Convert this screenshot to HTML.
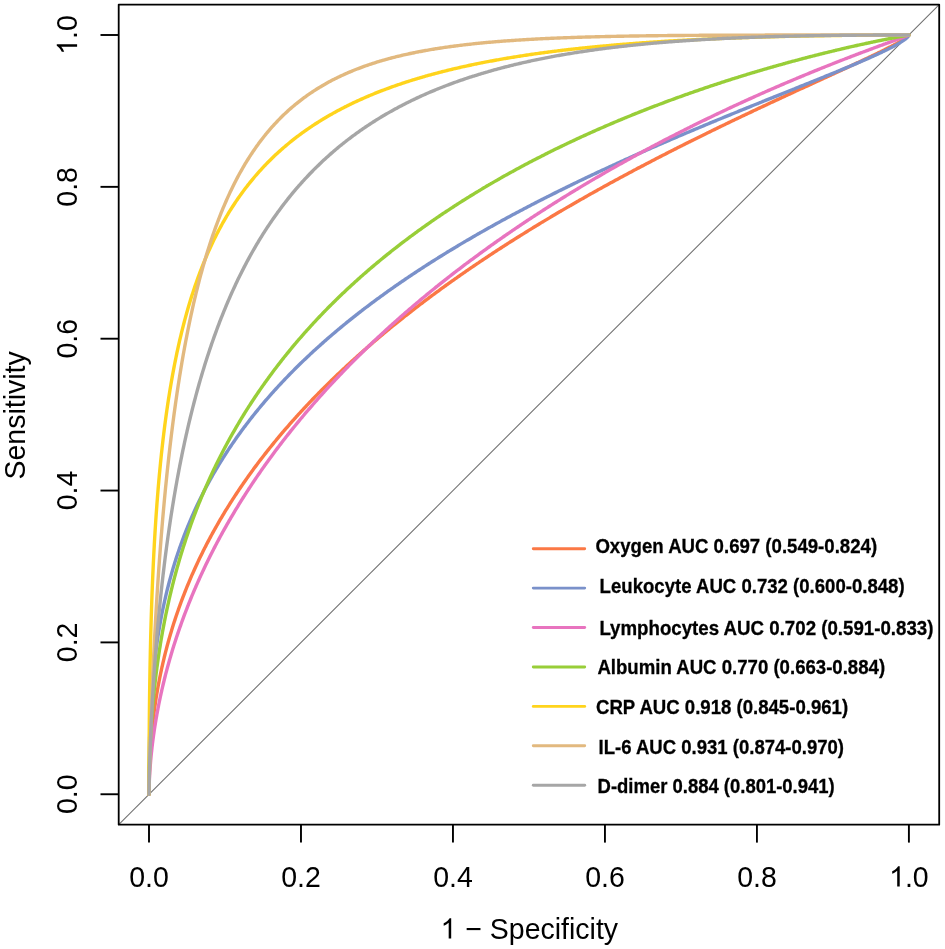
<!DOCTYPE html>
<html><head><meta charset="utf-8"><style>
html,body{margin:0;padding:0;background:#fff;}
svg{display:block;will-change:transform;}
</style></head><body>
<svg width="945" height="949" viewBox="0 0 945 949">
<rect width="945" height="949" fill="#fff"/>
<line x1="118.7" y1="824.7" x2="939.2" y2="4.6" stroke="#6f6f6f" stroke-width="1.05"/>
<g fill="none" stroke-width="3.4" stroke-linejoin="round" stroke-linecap="round">
<path d="M149.0,794.25 L149.0,793.84 L149.0,793.42 L149.0,793.01 L149.0,792.59 L149.0,792.15 L149.0,791.72 L149.01,791.28 L149.01,790.85 L149.01,790.36 L149.01,789.91 L149.01,789.42 L149.02,788.98 L149.02,788.52 L149.02,788.02 L149.03,787.62 L149.03,787.19 L149.04,786.75 L149.04,786.28 L149.05,785.78 L149.05,785.25 L149.06,784.7 L149.07,784.12 L149.07,783.51 L149.08,783.09 L149.09,782.65 L149.09,782.19 L149.1,781.73 L149.11,781.24 L149.12,780.74 L149.13,780.22 L149.14,779.69 L149.15,779.14 L149.16,778.57 L149.17,777.99 L149.18,777.38 L149.2,776.76 L149.21,776.12 L149.23,775.45 L149.25,774.77 L149.27,774.07 L149.29,773.34 L149.31,772.6 L149.33,771.83 L149.36,771.04 L149.37,770.64 L149.38,770.23 L149.4,769.81 L149.41,769.39 L149.43,768.96 L149.44,768.53 L149.46,768.09 L149.47,767.64 L149.49,767.19 L149.51,766.74 L149.53,766.27 L149.54,765.8 L149.56,765.32 L149.58,764.84 L149.6,764.35 L149.63,763.85 L149.65,763.35 L149.67,762.84 L149.69,762.32 L149.72,761.8 L149.74,761.27 L149.77,760.73 L149.79,760.18 L149.82,759.63 L149.85,759.07 L149.88,758.51 L149.91,757.93 L149.94,757.35 L149.97,756.76 L150.0,756.17 L150.03,755.56 L150.07,754.95 L150.1,754.33 L150.14,753.71 L150.18,753.07 L150.22,752.43 L150.26,751.78 L150.3,751.13 L150.34,750.46 L150.38,749.79 L150.43,749.1 L150.48,748.41 L150.52,747.72 L150.57,747.01 L150.62,746.29 L150.67,745.57 L150.73,744.84 L150.78,744.1 L150.84,743.35 L150.9,742.59 L150.96,741.83 L151.02,741.05 L151.08,740.27 L151.15,739.47 L151.21,738.67 L151.28,737.86 L151.35,737.04 L151.43,736.22 L151.5,735.38 L151.54,734.98 L151.58,734.53 L151.66,733.68 L151.74,732.81 L151.82,731.94 L151.91,731.05 L151.99,730.16 L152.08,729.26 L152.18,728.34 L152.27,727.42 L152.37,726.49 L152.47,725.55 L152.57,724.6 L152.68,723.64 L152.79,722.67 L152.9,721.69 L153.01,720.7 L153.13,719.7 L153.25,718.69 L153.37,717.67 L153.5,716.65 L153.63,715.61 L153.76,714.56 L153.89,713.5 L154.03,712.43 L154.18,711.35 L154.32,710.26 L154.47,709.16 L154.63,708.05 L154.78,706.93 L154.95,705.8 L155.11,704.66 L155.28,703.5 L155.34,703.08 L155.45,702.34 L155.63,701.17 L155.81,699.99 L156.0,698.79 L156.19,697.59 L156.39,696.38 L156.59,695.15 L156.79,693.91 L157.0,692.67 L157.22,691.41 L157.44,690.14 L157.66,688.87 L157.88,687.63 L158.12,686.28 L158.37,684.97 L158.61,683.65 L158.86,682.32 L159.12,680.97 L159.38,679.62 L159.65,678.26 L159.93,676.88 L160.21,675.5 L160.42,674.47 L160.49,674.1 L160.79,672.7 L161.09,671.28 L161.39,669.85 L161.69,668.5 L162.02,666.97 L162.35,665.51 L162.68,664.04 L162.95,662.86 L163.37,661.06 L163.73,659.56 L164.09,658.05 L164.22,657.49 L164.46,656.52 L164.84,654.99 L165.22,653.44 L165.49,652.37 L165.61,651.89 L166.02,650.32 L166.43,648.74 L166.76,647.47 L167.27,645.56 L167.7,643.95 L168.03,642.76 L168.15,642.33 L168.6,640.7 L169.06,639.06 L169.3,638.22 L169.53,637.41 L170.01,635.75 L170.5,634.08 L170.99,632.4 L171.5,630.71 L171.84,629.6 L172.02,629.01 L172.54,627.3 L173.08,625.57 L173.63,623.84 L174.18,622.1 L174.37,621.51 L174.75,620.35 L175.33,618.59 L175.64,617.64 L175.92,616.82 L176.51,615.03 L176.91,613.87 L177.12,613.24 L177.74,611.44 L178.18,610.2 L178.38,609.63 L179.02,607.81 L179.45,606.61 L179.67,605.98 L180.34,604.14 L180.72,603.11 L181.02,602.29 L181.71,600.43 L181.98,599.69 L182.41,598.56 L183.12,596.69 L183.25,596.35 L183.85,594.8 L184.52,593.07 L185.34,591.0 L185.79,589.86 L186.1,589.09 L186.88,587.16 L187.06,586.71 L187.67,585.23 L188.33,583.63 L188.47,583.29 L189.28,581.34 L189.6,580.6 L190.11,579.38 L190.86,577.62 L191.81,575.44 L192.13,574.7 L192.68,573.46 L193.4,571.82 L193.56,571.47 L194.46,569.47 L194.67,568.99 L195.37,567.46 L195.94,566.21 L196.29,565.44 L197.21,563.47 L198.19,561.38 L198.48,560.77 L199.15,559.34 L199.74,558.11 L200.14,557.3 L201.01,555.49 L202.15,553.18 L203.18,551.11 L203.55,550.36 L204.22,549.03 L204.82,547.84 L205.28,546.94 L206.09,545.36 L206.35,544.85 L207.36,542.91 L208.55,540.64 L209.67,538.53 L209.89,538.11 L210.8,536.41 L211.16,535.75 L211.96,534.28 L212.43,533.41 L213.13,532.15 L213.7,531.11 L214.31,530.01 L214.97,528.83 L215.51,527.86 L216.24,526.58 L216.73,525.71 L217.51,524.35 L217.97,523.55 L218.77,522.15 L219.22,521.38 L220.04,519.96 L220.48,519.21 L221.31,517.81 L221.77,517.03 L222.58,515.67 L223.07,514.85 L223.85,513.56 L224.39,512.66 L225.12,511.46 L225.72,510.47 L226.39,509.39 L227.08,508.27 L227.65,507.34 L228.45,506.06 L228.92,505.3 L229.83,503.85 L230.19,503.29 L231.24,501.64 L231.46,501.29 L232.66,499.42 L234.0,497.35 L235.27,495.41 L235.56,494.96 L236.53,493.48 L237.03,492.73 L237.8,491.57 L238.53,490.49 L239.07,489.68 L240.04,488.25 L240.34,487.8 L241.57,486.0 L242.88,484.09 L243.11,483.75 L244.15,482.26 L244.68,481.5 L245.41,480.44 L246.26,479.24 L246.68,478.63 L247.86,476.97 L249.22,475.07 L249.48,474.71 L250.49,473.3 L251.12,472.44 L251.76,471.55 L252.77,470.16 L253.03,469.82 L254.29,468.09 L255.56,466.38 L256.14,465.61 L256.83,464.68 L257.85,463.33 L258.1,462.99 L259.37,461.31 L259.57,461.04 L260.64,459.65 L261.32,458.75 L261.91,457.99 L263.09,456.46 L264.44,454.72 L264.87,454.17 L265.71,453.09 L266.67,451.88 L266.98,451.48 L268.25,449.88 L268.49,449.58 L269.52,448.29 L270.33,447.28 L270.79,446.71 L272.06,445.14 L273.32,443.58 L274.06,442.68 L274.59,442.03 L275.86,440.49 L277.13,438.95 L277.87,438.07 L278.4,437.43 L279.67,435.92 L280.94,434.41 L281.75,433.45 L282.2,432.91 L283.47,431.42 L283.72,431.14 L284.74,429.94 L285.7,428.83 L286.01,428.47 L287.28,427.01 L287.71,426.52 L288.55,425.55 L289.73,424.21 L291.08,422.67 L291.77,421.89 L292.35,421.23 L293.62,419.81 L293.83,419.58 L294.89,418.39 L295.9,417.27 L296.16,416.98 L297.43,415.58 L298.0,414.95 L298.7,414.19 L299.97,412.8 L301.23,411.42 L302.24,410.33 L302.5,410.05 L303.77,408.68 L304.39,408.01 L305.04,407.32 L306.31,405.97 L306.56,405.7 L307.58,404.62 L308.74,403.39 L310.11,401.95 L310.95,401.07 L311.38,400.62 L312.65,399.3 L313.16,398.76 L313.92,397.98 L315.19,396.67 L315.4,396.45 L316.46,395.37 L317.66,394.15 L318.99,392.78 L319.93,391.84 L320.26,391.5 L321.53,390.22 L322.22,389.53 L322.8,388.95 L324.07,387.68 L324.52,387.23 L325.34,386.42 L326.61,385.16 L326.85,384.92 L327.87,383.91 L329.14,382.66 L330.41,381.42 L331.54,380.32 L332.95,378.96 L333.92,378.02 L334.22,377.74 L335.49,376.52 L336.31,375.73 L336.75,375.3 L338.02,374.09 L338.72,373.43 L339.29,372.89 L340.56,371.69 L341.14,371.14 L341.83,370.49 L343.1,369.3 L343.58,368.86 L344.37,368.12 L345.64,366.94 L346.03,366.57 L346.9,365.76 L348.17,364.59 L348.51,364.29 L349.44,363.43 L350.71,362.26 L350.99,362.01 L351.98,361.11 L353.25,359.95 L353.5,359.73 L354.52,358.81 L355.78,357.66 L356.01,357.46 L357.05,356.52 L358.32,355.39 L358.55,355.18 L359.59,354.25 L360.86,353.13 L361.1,352.92 L362.13,352.0 L363.4,350.89 L363.66,350.65 L364.66,349.77 L365.93,348.66 L366.24,348.39 L367.2,347.55 L368.47,346.45 L368.83,346.14 L369.74,345.35 L371.01,344.26 L371.44,343.89 L372.28,343.16 L373.54,342.08 L374.06,341.64 L374.81,340.99 L376.08,339.91 L376.7,339.39 L377.35,338.84 L378.62,337.77 L379.35,337.15 L379.89,336.7 L381.16,335.63 L382.01,334.92 L382.43,334.57 L383.69,333.51 L384.69,332.69 L384.96,332.46 L386.23,331.41 L387.38,330.46 L388.77,329.32 L390.04,328.28 L391.31,327.24 L392.57,326.2 L392.8,326.02 L393.84,325.17 L395.11,324.15 L395.53,323.81 L396.38,323.12 L397.65,322.1 L398.27,321.61 L398.92,321.08 L400.19,320.07 L401.02,319.4 L401.45,319.06 L402.72,318.05 L403.79,317.21 L405.26,316.04 L406.53,315.05 L407.8,314.05 L409.07,313.06 L409.35,312.83 L410.33,312.07 L411.6,311.08 L412.15,310.66 L412.87,310.1 L414.14,309.12 L414.96,308.48 L415.41,308.14 L416.68,307.17 L417.79,306.32 L419.21,305.22 L420.48,304.26 L421.75,303.29 L423.02,302.33 L423.46,302.0 L424.29,301.38 L425.56,300.42 L426.32,299.85 L426.83,299.47 L428.1,298.52 L429.18,297.71 L430.63,296.63 L431.9,295.69 L433.17,294.75 L434.44,293.81 L434.94,293.44 L435.71,292.88 L436.98,291.94 L437.83,291.32 L438.24,291.02 L439.51,290.09 L440.73,289.2 L442.05,288.24 L443.32,287.33 L443.64,287.1 L444.59,286.41 L445.86,285.5 L446.55,284.99 L447.12,284.58 L448.39,283.68 L449.48,282.9 L450.93,281.87 L452.2,280.96 L453.47,280.06 L454.74,279.17 L455.35,278.73 L456.0,278.27 L457.27,277.38 L458.3,276.66 L458.54,276.49 L459.81,275.6 L461.08,274.72 L462.35,273.83 L463.62,272.95 L464.22,272.53 L464.88,272.07 L466.15,271.2 L467.18,270.48 L467.42,270.32 L468.69,269.45 L469.96,268.58 L471.23,267.71 L472.5,266.84 L473.14,266.41 L473.77,265.98 L475.03,265.12 L476.12,264.38 L477.57,263.4 L478.84,262.55 L479.11,262.36 L480.11,261.69 L481.38,260.84 L482.11,260.35 L482.65,259.99 L483.91,259.15 L485.11,258.35 L486.45,257.46 L487.72,256.62 L488.11,256.35 L488.99,255.78 L490.26,254.94 L491.12,254.37 L491.53,254.1 L492.79,253.27 L494.06,252.44 L495.33,251.61 L496.6,250.78 L497.15,250.42 L497.87,249.95 L499.14,249.13 L500.17,248.46 L501.67,247.49 L502.94,246.67 L503.19,246.51 L504.21,245.85 L505.48,245.04 L506.22,244.57 L506.75,244.22 L508.02,243.41 L509.24,242.63 L510.56,241.8 L511.82,240.99 L512.27,240.71 L513.09,240.19 L514.36,239.38 L515.3,238.79 L515.63,238.58 L516.9,237.78 L518.17,236.99 L519.44,236.19 L520.7,235.4 L521.37,234.99 L521.97,234.61 L523.24,233.82 L524.4,233.1 L525.78,232.24 L527.05,231.45 L527.43,231.22 L528.32,230.67 L529.58,229.89 L530.47,229.35 L530.85,229.11 L532.12,228.33 L533.39,227.55 L534.66,226.78 L535.93,226.0 L536.53,225.63 L537.2,225.23 L538.46,224.46 L539.57,223.79 L541.0,222.92 L542.27,222.16 L542.6,221.96 L543.54,221.39 L544.81,220.63 L545.63,220.13 L546.08,219.87 L547.34,219.11 L548.61,218.35 L549.88,217.59 L551.15,216.83 L551.68,216.52 L552.42,216.08 L553.69,215.33 L554.71,214.72 L556.23,213.83 L557.49,213.08 L558.76,212.33 L560.03,211.58 L560.75,211.16 L561.3,210.84 L562.57,210.1 L563.77,209.4 L565.11,208.62 L566.37,207.88 L566.78,207.64 L567.64,207.14 L568.91,206.41 L569.79,205.9 L570.18,205.67 L571.45,204.94 L572.72,204.21 L573.99,203.48 L575.25,202.75 L575.79,202.44 L576.52,202.02 L577.79,201.29 L578.79,200.73 L579.06,200.57 L580.33,199.84 L581.6,199.12 L582.87,198.4 L584.13,197.68 L584.76,197.33 L585.4,196.96 L586.67,196.25 L587.74,195.64 L589.21,194.82 L590.48,194.1 L591.75,193.39 L593.02,192.68 L593.68,192.31 L594.28,191.97 L595.55,191.26 L596.64,190.65 L598.09,189.85 L599.36,189.14 L600.63,188.44 L601.9,187.74 L602.55,187.38 L603.16,187.04 L604.43,186.34 L605.49,185.76 L606.97,184.94 L608.24,184.24 L609.51,183.55 L610.78,182.86 L611.35,182.54 L612.04,182.16 L613.31,181.47 L614.26,180.95 L614.58,180.78 L615.85,180.09 L617.12,179.4 L618.39,178.72 L619.66,178.03 L620.07,177.8 L620.92,177.34 L622.19,176.66 L622.96,176.25 L623.46,175.98 L624.73,175.3 L625.85,174.7 L627.27,173.94 L628.54,173.26 L629.8,172.58 L631.07,171.9 L631.58,171.63 L632.34,171.23 L633.61,170.56 L634.44,170.12 L634.88,169.88 L636.15,169.21 L637.28,168.61 L638.69,167.87 L639.95,167.2 L641.22,166.53 L642.49,165.87 L642.94,165.63 L643.76,165.2 L645.03,164.54 L645.75,164.16 L646.3,163.87 L647.57,163.21 L648.55,162.7 L648.83,162.55 L650.1,161.89 L651.34,161.24 L652.64,160.57 L653.91,159.91 L655.18,159.25 L656.45,158.6 L656.88,158.37 L657.71,157.94 L658.98,157.29 L659.63,156.95 L660.25,156.63 L661.52,155.98 L662.37,155.54 L662.79,155.33 L664.06,154.68 L665.1,154.14 L666.59,153.38 L667.82,152.76 L669.13,152.09 L670.4,151.44 L671.67,150.8 L672.94,150.15 L673.21,150.01 L674.21,149.51 L675.47,148.87 L675.89,148.66 L676.74,148.23 L678.01,147.59 L678.55,147.31 L679.28,146.95 L680.55,146.31 L681.2,145.98 L681.82,145.67 L683.09,145.03 L683.84,144.65 L684.36,144.4 L685.62,143.76 L686.46,143.34 L686.89,143.13 L688.16,142.49 L689.07,142.04 L689.43,141.86 L690.7,141.23 L691.66,140.75 L691.97,140.6 L693.24,139.97 L694.24,139.47 L695.77,138.71 L696.8,138.2 L698.31,137.45 L699.35,136.94 L700.85,136.2 L701.89,135.69 L703.38,134.95 L704.4,134.45 L705.92,133.7 L706.91,133.22 L707.19,133.08 L708.46,132.46 L709.39,132.0 L709.73,131.84 L711.0,131.22 L711.87,130.8 L712.26,130.6 L713.53,129.98 L714.32,129.6 L714.8,129.37 L716.07,128.75 L716.76,128.41 L717.34,128.13 L718.61,127.52 L719.18,127.24 L719.88,126.9 L721.15,126.29 L721.59,126.07 L722.41,125.68 L723.68,125.06 L723.98,124.92 L724.95,124.45 L726.22,123.84 L727.49,123.23 L728.71,122.64 L730.03,122.01 L731.05,121.52 L732.56,120.79 L733.38,120.4 L733.83,120.19 L735.1,119.58 L735.68,119.3 L736.37,118.97 L737.64,118.37 L737.97,118.21 L738.91,117.76 L740.17,117.16 L741.44,116.56 L742.5,116.05 L743.98,115.35 L744.74,114.99 L745.25,114.75 L746.52,114.15 L746.95,113.94 L747.79,113.55 L749.05,112.95 L750.32,112.35 L751.34,111.87 L752.86,111.15 L753.51,110.84 L754.13,110.55 L755.4,109.95 L756.67,109.36 L757.79,108.83 L759.2,108.16 L759.9,107.84 L760.47,107.57 L761.74,106.97 L763.01,106.38 L764.07,105.88 L765.55,105.19 L766.13,104.92 L766.82,104.6 L768.08,104.01 L769.35,103.41 L770.19,103.02 L770.62,102.82 L771.89,102.23 L772.2,102.09 L773.16,101.64 L774.18,101.16 L775.7,100.46 L776.15,100.25 L776.96,99.87 L778.1,99.34 L779.5,98.69 L780.03,98.45 L780.77,98.11 L781.94,97.56 L783.31,96.93 L783.84,96.69 L784.58,96.34 L785.71,95.82 L787.11,95.17 L787.57,94.96 L788.38,94.58 L789.41,94.11 L790.92,93.41 L791.23,93.27 L792.19,92.83 L793.03,92.44 L793.46,92.24 L794.72,91.66 L795.99,91.07 L796.58,90.8 L797.26,90.49 L798.33,90.0 L799.8,89.32 L801.07,88.74 L801.76,88.42 L802.34,88.16 L803.46,87.64 L804.87,86.99 L806.14,86.41 L806.78,86.11 L807.41,85.83 L808.42,85.36 L809.95,84.66 L811.22,84.08 L811.64,83.89 L812.49,83.5 L813.22,83.16 L813.75,82.92 L814.79,82.44 L816.29,81.75 L817.56,81.17 L817.86,81.03 L818.83,80.59 L819.37,80.34 L820.1,80.01 L820.87,79.66 L821.37,79.43 L822.34,78.98 L822.63,78.85 L823.8,78.31 L825.17,77.68 L826.44,77.1 L827.71,76.52 L828.07,76.36 L828.98,75.94 L829.45,75.72 L830.25,75.36 L830.82,75.09 L831.51,74.77 L832.18,74.47 L832.78,74.19 L833.51,73.86 L834.05,73.61 L834.83,73.25 L835.32,73.03 L836.13,72.65 L836.59,72.44 L837.42,72.06 L837.86,71.86 L838.68,71.48 L839.13,71.28 L839.93,70.9 L840.39,70.69 L841.17,70.34 L841.66,70.11 L842.39,69.78 L842.93,69.52 L843.59,69.22 L844.2,68.94 L844.77,68.67 L845.47,68.35 L845.94,68.13 L846.74,67.77 L847.1,67.6 L848.01,67.18 L849.28,66.59 L850.46,66.04 L851.55,65.54 L852.62,65.04 L853.08,64.83 L853.68,64.55 L854.35,64.24 L854.72,64.06 L855.62,63.65 L856.76,63.11 L857.76,62.65 L858.16,62.46 L858.75,62.19 L859.42,61.87 L859.71,61.73 L860.67,61.29 L861.61,60.84 L861.96,60.68 L862.53,60.41 L863.23,60.08 L864.34,59.56 L865.22,59.14 L865.77,58.88 L866.09,58.73 L866.95,58.32 L867.79,57.92 L868.3,57.68 L868.62,57.53 L869.43,57.14 L870.23,56.76 L870.84,56.47 L871.8,56.01 L872.11,55.86 L872.56,55.64 L873.31,55.28 L874.05,54.93 L874.65,54.64 L875.49,54.23 L875.92,54.03 L876.19,53.89 L876.88,53.56 L877.18,53.41 L877.56,53.23 L878.23,52.9 L878.88,52.58 L879.52,52.27 L880.16,51.96 L880.78,51.65 L881.39,51.35 L881.98,51.05 L882.26,50.92 L882.57,50.76 L883.15,50.47 L883.53,50.28 L884.27,49.91 L884.8,49.65 L885.36,49.37 L885.88,49.1 L886.4,48.84 L886.91,48.58 L887.33,48.36 L887.89,48.08 L888.37,47.83 L888.84,47.59 L889.3,47.35 L889.75,47.12 L890.2,46.89 L890.63,46.67 L891.06,46.44 L891.47,46.22 L891.88,46.01 L892.29,45.8 L892.68,45.59 L893.06,45.38 L893.44,45.18 L893.81,44.99 L894.17,44.79 L894.53,44.6 L894.88,44.41 L895.22,44.23 L895.55,44.05 L895.88,43.87 L896.19,43.69 L896.51,43.52 L896.81,43.35 L897.11,43.18 L897.41,43.02 L897.69,42.86 L897.97,42.7 L898.25,42.55 L898.52,42.39 L898.78,42.24 L899.29,41.95 L899.78,41.67 L900.24,41.4 L900.68,41.14 L901.11,40.89 L901.51,40.64 L901.9,40.41 L902.27,40.19 L902.56,40.01 L902.95,39.76 L903.27,39.56 L903.58,39.36 L903.87,39.18 L904.14,39.0 L904.4,38.83 L904.65,38.66 L904.89,38.5 L905.22,38.27 L905.53,38.06 L905.82,37.86 L906.08,37.67 L906.32,37.49 L906.62,37.27 L906.88,37.07 L907.12,36.88 L907.38,36.67 L907.6,36.48 L907.83,36.28 L908.05,36.07 L908.27,35.86 L908.47,35.65 L908.66,35.42 L908.9,35.0" stroke="#FB7845" />
<path d="M149.0,794.25 L149.0,793.84 L149.0,793.43 L149.0,793.01 L149.0,792.6 L149.0,792.16 L149.0,791.72 L149.0,791.27 L149.0,790.81 L149.0,790.37 L149.0,789.96 L149.0,789.52 L149.0,789.04 L149.0,788.62 L149.0,788.18 L149.0,787.7 L149.0,787.19 L149.0,786.79 L149.0,786.36 L149.0,785.92 L149.0,785.45 L149.01,784.96 L149.01,784.45 L149.01,783.91 L149.01,783.35 L149.01,782.76 L149.01,782.35 L149.01,781.93 L149.01,781.5 L149.01,781.05 L149.01,780.59 L149.02,780.12 L149.02,779.63 L149.02,779.13 L149.02,778.62 L149.02,778.09 L149.02,777.54 L149.03,776.98 L149.03,776.41 L149.03,775.82 L149.03,775.21 L149.04,774.58 L149.04,773.94 L149.04,773.28 L149.05,772.61 L149.05,771.91 L149.06,771.2 L149.06,770.46 L149.07,769.71 L149.07,768.94 L149.08,768.15 L149.08,767.34 L149.09,766.93 L149.09,766.51 L149.09,766.08 L149.1,765.66 L149.1,765.22 L149.1,764.78 L149.11,764.34 L149.11,763.89 L149.12,763.43 L149.12,762.97 L149.13,762.5 L149.13,762.03 L149.14,761.55 L149.14,761.07 L149.15,760.58 L149.15,760.08 L149.16,759.58 L149.17,759.07 L149.17,758.56 L149.18,758.04 L149.18,757.51 L149.19,756.98 L149.2,756.45 L149.21,755.9 L149.21,755.35 L149.22,754.8 L149.23,754.23 L149.24,753.66 L149.25,753.09 L149.26,752.51 L149.27,751.92 L149.28,751.32 L149.29,750.72 L149.3,750.11 L149.31,749.5 L149.32,748.88 L149.33,748.25 L149.34,747.62 L149.36,746.97 L149.37,746.33 L149.38,745.67 L149.4,745.01 L149.41,744.34 L149.43,743.66 L149.44,742.98 L149.46,742.29 L149.47,741.59 L149.49,740.89 L149.51,740.17 L149.53,739.46 L149.54,738.73 L149.56,737.99 L149.58,737.25 L149.6,736.5 L149.63,735.75 L149.65,734.98 L149.67,734.21 L149.69,733.43 L149.72,732.65 L149.74,731.85 L149.77,731.05 L149.79,730.24 L149.82,729.42 L149.85,728.6 L149.88,727.77 L149.91,726.93 L149.94,726.08 L149.97,725.22 L150.0,724.36 L150.03,723.48 L150.07,722.6 L150.1,721.71 L150.14,720.82 L150.18,719.91 L150.22,719.0 L150.26,718.08 L150.3,717.15 L150.34,716.21 L150.38,715.27 L150.43,714.31 L150.48,713.35 L150.52,712.38 L150.57,711.4 L150.62,710.41 L150.67,709.42 L150.73,708.41 L150.78,707.4 L150.84,706.38 L150.9,705.35 L150.96,704.31 L151.02,703.26 L151.08,702.21 L151.15,701.14 L151.21,700.07 L151.28,698.99 L151.35,697.9 L151.43,696.8 L151.5,695.69 L151.54,695.16 L151.58,694.58 L151.66,693.45 L151.74,692.32 L151.82,691.18 L151.91,690.03 L151.99,688.87 L152.08,687.7 L152.18,686.52 L152.27,685.33 L152.37,684.14 L152.47,682.94 L152.57,681.72 L152.68,680.5 L152.79,679.27 L152.9,678.03 L153.01,676.79 L153.13,675.53 L153.25,674.27 L153.37,672.99 L153.5,671.71 L153.63,670.42 L153.76,669.12 L153.89,667.81 L154.03,666.49 L154.07,666.1 L154.18,665.16 L154.32,663.83 L154.47,662.48 L154.63,661.13 L154.78,659.77 L154.95,658.4 L155.11,657.02 L155.28,655.63 L155.34,655.13 L155.45,654.23 L155.63,652.83 L155.81,651.41 L156.0,649.99 L156.19,648.56 L156.39,647.12 L156.59,645.67 L156.79,644.21 L157.0,642.75 L157.22,641.27 L157.44,639.79 L157.66,638.3 L157.88,636.86 L158.12,635.29 L158.37,633.77 L158.61,632.24 L158.86,630.71 L159.12,629.17 L159.38,627.62 L159.65,626.06 L159.93,624.49 L160.21,622.91 L160.42,621.74 L160.49,621.33 L160.79,619.74 L161.09,618.13 L161.39,616.53 L161.69,615.01 L162.02,613.28 L162.35,611.65 L162.68,610.01 L162.95,608.7 L163.02,608.36 L163.37,606.7 L163.73,605.04 L164.09,603.37 L164.22,602.75 L164.46,601.69 L164.84,600.0 L165.22,598.3 L165.49,597.13 L165.61,596.6 L166.02,594.89 L166.43,593.17 L166.76,591.78 L166.84,591.44 L167.27,589.71 L167.7,587.97 L168.03,586.68 L168.15,586.22 L168.6,584.46 L169.06,582.7 L169.3,581.8 L169.53,580.93 L170.01,579.16 L170.5,577.37 L170.99,575.58 L171.5,573.78 L171.84,572.61 L172.02,571.98 L172.54,570.16 L173.08,568.35 L173.63,566.52 L174.18,564.69 L174.37,564.07 L174.75,562.85 L175.33,561.01 L175.64,560.01 L175.92,559.15 L176.51,557.3 L176.91,556.08 L177.12,555.43 L177.74,553.56 L178.18,552.27 L178.38,551.68 L179.02,549.8 L179.45,548.57 L179.67,547.91 L180.34,546.02 L180.72,544.96 L181.02,544.12 L181.71,542.21 L181.98,541.45 L182.41,540.3 L183.12,538.38 L183.25,538.03 L183.85,536.46 L184.52,534.7 L185.34,532.59 L185.79,531.44 L186.1,530.65 L186.88,528.71 L187.06,528.26 L187.67,526.76 L188.33,525.14 L188.47,524.8 L189.28,522.84 L189.6,522.1 L190.11,520.88 L190.86,519.11 L191.81,516.93 L192.13,516.19 L192.68,514.95 L193.4,513.32 L193.56,512.97 L194.46,510.98 L194.67,510.51 L195.37,508.98 L195.94,507.75 L196.29,506.99 L197.21,505.04 L198.19,502.98 L198.48,502.37 L199.15,500.97 L199.74,499.75 L200.14,498.95 L201.01,497.18 L202.15,494.91 L203.18,492.89 L203.55,492.15 L204.22,490.86 L204.82,489.7 L205.28,488.82 L206.09,487.29 L206.35,486.79 L207.36,484.9 L208.55,482.7 L209.67,480.66 L209.89,480.25 L210.8,478.61 L211.16,477.97 L211.96,476.55 L212.43,475.72 L213.13,474.5 L213.7,473.5 L214.31,472.44 L214.97,471.31 L215.51,470.38 L216.24,469.15 L216.73,468.31 L217.51,467.01 L217.97,466.25 L218.77,464.91 L219.22,464.18 L220.04,462.82 L220.48,462.11 L221.31,460.77 L221.77,460.03 L222.58,458.74 L223.07,457.96 L223.85,456.73 L224.39,455.88 L225.12,454.74 L225.72,453.8 L226.39,452.78 L227.08,451.72 L227.65,450.84 L228.45,449.63 L228.92,448.92 L229.83,447.55 L230.19,447.02 L231.24,445.46 L231.46,445.14 L232.66,443.37 L234.0,441.43 L235.27,439.61 L235.56,439.19 L236.53,437.81 L237.03,437.1 L237.8,436.02 L238.53,435.01 L239.07,434.25 L240.04,432.91 L240.34,432.5 L241.57,430.82 L242.88,429.04 L243.11,428.72 L244.15,427.33 L244.68,426.63 L245.41,425.64 L246.26,424.53 L246.68,423.97 L247.86,422.43 L249.22,420.67 L249.48,420.33 L250.49,419.04 L251.12,418.24 L251.76,417.42 L252.77,416.14 L253.03,415.81 L254.29,414.22 L255.56,412.65 L256.14,411.94 L256.83,411.08 L257.85,409.84 L258.1,409.53 L259.37,407.99 L259.57,407.74 L260.64,406.46 L261.32,405.65 L261.91,404.95 L263.09,403.55 L264.44,401.95 L264.87,401.45 L265.71,400.47 L266.67,399.36 L266.98,399.0 L268.25,397.54 L268.49,397.26 L269.52,396.09 L270.33,395.17 L270.79,394.65 L272.06,393.22 L273.32,391.8 L274.06,390.98 L274.59,390.39 L275.86,388.99 L277.13,387.6 L277.87,386.8 L278.4,386.22 L279.67,384.85 L280.94,383.49 L281.75,382.62 L282.2,382.14 L283.47,380.79 L283.72,380.54 L284.74,379.46 L285.7,378.45 L286.01,378.13 L287.28,376.81 L287.71,376.37 L288.55,375.5 L289.73,374.29 L291.08,372.91 L291.77,372.21 L292.35,371.62 L293.62,370.34 L293.83,370.13 L294.89,369.07 L295.9,368.06 L296.16,367.81 L297.43,366.55 L298.0,365.99 L298.7,365.3 L299.97,364.06 L301.23,362.83 L302.24,361.85 L302.5,361.6 L303.77,360.38 L304.39,359.78 L305.04,359.16 L306.31,357.96 L306.56,357.72 L307.58,356.76 L308.74,355.66 L310.11,354.38 L310.95,353.6 L311.38,353.2 L312.65,352.02 L313.16,351.55 L313.92,350.85 L315.19,349.69 L316.46,348.54 L317.66,347.45 L318.99,346.24 L319.93,345.4 L320.26,345.11 L321.53,343.97 L322.22,343.36 L322.8,342.85 L324.07,341.73 L324.52,341.32 L325.34,340.61 L326.61,339.5 L326.85,339.29 L327.87,338.4 L329.14,337.3 L330.41,336.2 L331.54,335.23 L332.95,334.03 L333.92,333.21 L334.22,332.95 L335.49,331.88 L336.31,331.19 L336.75,330.81 L338.02,329.75 L338.72,329.17 L339.29,328.69 L340.56,327.64 L341.14,327.16 L341.83,326.59 L343.1,325.54 L343.58,325.15 L344.37,324.5 L345.64,323.47 L346.03,323.15 L346.9,322.44 L348.17,321.41 L348.51,321.15 L349.44,320.39 L350.71,319.38 L350.99,319.15 L351.98,318.36 L353.25,317.36 L353.5,317.16 L354.52,316.35 L355.78,315.35 L356.01,315.17 L357.05,314.36 L358.32,313.37 L358.55,313.19 L359.59,312.38 L360.86,311.4 L361.1,311.21 L362.13,310.42 L363.4,309.44 L363.66,309.24 L364.66,308.47 L365.93,307.51 L366.24,307.27 L367.2,306.54 L368.47,305.58 L368.83,305.31 L369.74,304.63 L371.01,303.68 L371.44,303.35 L372.28,302.73 L373.54,301.78 L374.06,301.4 L374.81,300.84 L376.08,299.91 L376.7,299.45 L377.35,298.97 L378.62,298.04 L379.35,297.51 L379.89,297.12 L381.16,296.19 L382.01,295.57 L382.43,295.27 L383.69,294.36 L384.69,293.64 L384.96,293.44 L386.23,292.54 L387.38,291.72 L388.77,290.73 L390.04,289.83 L391.31,288.93 L392.57,288.04 L393.84,287.15 L395.11,286.26 L395.53,285.97 L396.38,285.38 L397.65,284.5 L398.27,284.07 L398.92,283.62 L400.19,282.75 L401.02,282.17 L401.45,281.87 L402.72,281.01 L403.79,280.28 L405.26,279.28 L406.53,278.42 L407.8,277.56 L409.07,276.71 L409.35,276.52 L410.33,275.86 L411.6,275.01 L412.15,274.64 L412.87,274.16 L414.14,273.32 L414.96,272.78 L415.41,272.48 L416.68,271.64 L417.79,270.91 L419.21,269.98 L420.48,269.15 L421.75,268.32 L423.02,267.5 L423.46,267.21 L424.29,266.68 L425.56,265.86 L426.32,265.37 L426.83,265.04 L428.1,264.23 L429.18,263.54 L430.63,262.61 L431.9,261.8 L433.17,261.0 L434.44,260.2 L434.94,259.89 L435.71,259.4 L436.98,258.6 L437.83,258.07 L438.24,257.81 L439.51,257.02 L440.73,256.26 L442.05,255.44 L443.32,254.66 L443.64,254.46 L444.59,253.88 L445.86,253.1 L446.55,252.67 L447.12,252.32 L448.39,251.54 L449.48,250.88 L450.93,250.0 L452.2,249.23 L453.47,248.46 L454.74,247.7 L455.35,247.33 L456.0,246.94 L457.27,246.18 L458.3,245.56 L459.81,244.66 L461.08,243.91 L462.35,243.16 L463.62,242.41 L464.22,242.05 L464.88,241.66 L466.15,240.91 L467.18,240.31 L468.69,239.43 L469.96,238.69 L471.23,237.95 L472.5,237.21 L473.14,236.84 L473.77,236.48 L475.03,235.75 L476.12,235.12 L477.57,234.29 L478.84,233.56 L479.11,233.4 L480.11,232.84 L481.38,232.11 L482.11,231.7 L482.65,231.39 L483.91,230.67 L485.11,230.0 L486.45,229.24 L487.72,228.53 L488.11,228.31 L488.99,227.82 L490.26,227.11 L491.12,226.62 L491.53,226.4 L492.79,225.69 L494.06,224.99 L495.33,224.28 L496.6,223.58 L497.15,223.28 L497.87,222.88 L499.14,222.19 L500.17,221.62 L501.67,220.79 L502.94,220.1 L504.21,219.41 L505.48,218.72 L506.22,218.32 L506.75,218.03 L508.02,217.35 L509.24,216.69 L510.56,215.98 L511.82,215.3 L512.27,215.06 L513.09,214.62 L514.36,213.94 L515.3,213.44 L515.63,213.26 L516.9,212.59 L518.17,211.91 L519.44,211.24 L520.7,210.57 L521.37,210.22 L521.97,209.9 L523.24,209.23 L524.4,208.62 L525.78,207.9 L527.05,207.24 L527.43,207.04 L528.32,206.58 L529.58,205.91 L530.47,205.46 L530.85,205.26 L532.12,204.6 L533.39,203.94 L534.66,203.29 L535.93,202.63 L536.53,202.32 L537.2,201.98 L538.46,201.33 L539.57,200.77 L541.0,200.03 L542.27,199.39 L542.6,199.22 L543.54,198.74 L544.81,198.1 L545.63,197.68 L546.08,197.46 L547.34,196.81 L548.61,196.17 L549.88,195.54 L551.15,194.9 L551.68,194.63 L552.42,194.26 L553.69,193.63 L554.71,193.12 L556.23,192.36 L557.49,191.73 L558.76,191.1 L560.03,190.47 L560.75,190.12 L561.3,189.85 L562.57,189.22 L563.77,188.63 L565.11,187.97 L566.37,187.35 L566.78,187.15 L567.64,186.73 L568.91,186.11 L569.79,185.68 L570.18,185.49 L571.45,184.87 L572.72,184.26 L573.99,183.64 L575.25,183.03 L575.79,182.77 L576.52,182.41 L577.79,181.8 L578.79,181.32 L580.33,180.58 L581.6,179.97 L582.87,179.37 L584.13,178.76 L584.76,178.46 L585.4,178.16 L586.67,177.55 L587.74,177.04 L589.21,176.35 L590.48,175.75 L591.75,175.15 L593.02,174.55 L593.68,174.23 L594.28,173.95 L595.55,173.35 L596.64,172.84 L598.09,172.16 L599.36,171.57 L600.63,170.98 L601.9,170.39 L602.55,170.08 L603.16,169.8 L604.43,169.21 L605.49,168.72 L606.97,168.03 L608.24,167.45 L609.51,166.86 L610.78,166.28 L611.35,166.01 L612.04,165.69 L613.31,165.11 L614.26,164.67 L614.58,164.53 L615.85,163.95 L617.12,163.37 L618.39,162.79 L619.66,162.21 L620.07,162.02 L620.92,161.63 L622.19,161.06 L622.96,160.71 L623.46,160.48 L624.73,159.91 L625.85,159.4 L627.27,158.76 L628.54,158.19 L629.8,157.62 L631.07,157.05 L631.58,156.82 L632.34,156.48 L633.61,155.91 L634.44,155.54 L634.88,155.35 L636.15,154.78 L637.28,154.28 L638.69,153.65 L639.95,153.09 L641.22,152.52 L642.49,151.96 L642.94,151.76 L643.76,151.4 L645.03,150.84 L645.75,150.52 L646.3,150.28 L647.57,149.72 L648.55,149.29 L648.83,149.16 L650.1,148.6 L651.34,148.06 L652.64,147.49 L653.91,146.94 L655.18,146.38 L656.45,145.83 L656.88,145.64 L657.71,145.28 L658.98,144.72 L659.63,144.44 L660.25,144.17 L661.52,143.62 L662.37,143.25 L662.79,143.07 L664.06,142.52 L665.1,142.07 L666.59,141.43 L667.82,140.9 L669.13,140.33 L670.4,139.79 L671.67,139.24 L672.94,138.7 L674.21,138.16 L675.47,137.61 L675.89,137.43 L676.74,137.07 L678.01,136.53 L678.55,136.3 L679.28,135.99 L680.55,135.45 L681.2,135.17 L681.82,134.91 L683.09,134.37 L683.84,134.05 L684.36,133.83 L685.62,133.29 L686.46,132.94 L686.89,132.76 L688.16,132.22 L689.07,131.84 L689.43,131.68 L690.7,131.15 L691.66,130.74 L691.97,130.61 L693.24,130.08 L694.24,129.66 L695.77,129.01 L696.8,128.58 L698.31,127.95 L699.35,127.51 L700.85,126.89 L701.89,126.45 L703.38,125.83 L704.4,125.4 L705.92,124.77 L706.91,124.36 L707.19,124.24 L708.46,123.72 L709.39,123.33 L709.73,123.19 L711.0,122.66 L711.87,122.3 L712.26,122.14 L713.53,121.61 L714.32,121.28 L714.8,121.09 L716.07,120.56 L716.76,120.28 L717.34,120.04 L718.61,119.51 L719.18,119.28 L719.88,118.99 L721.15,118.47 L721.59,118.29 L722.41,117.95 L723.68,117.43 L723.98,117.3 L724.95,116.9 L726.22,116.38 L727.49,115.86 L728.71,115.36 L730.03,114.82 L731.05,114.4 L732.56,113.79 L733.38,113.45 L733.83,113.27 L735.1,112.75 L735.68,112.51 L736.37,112.23 L737.64,111.72 L737.97,111.58 L738.91,111.2 L740.17,110.68 L741.44,110.17 L742.5,109.74 L743.98,109.14 L744.74,108.83 L745.25,108.62 L746.52,108.11 L746.95,107.93 L747.79,107.59 L749.05,107.08 L750.32,106.57 L751.34,106.15 L752.86,105.54 L753.51,105.28 L754.13,105.03 L755.4,104.51 L756.67,104.0 L757.79,103.55 L759.2,102.98 L759.9,102.7 L760.47,102.47 L761.74,101.96 L763.01,101.44 L764.07,101.02 L765.55,100.42 L766.13,100.19 L766.82,99.91 L768.08,99.4 L769.35,98.89 L770.19,98.55 L770.62,98.38 L771.89,97.87 L772.2,97.75 L773.16,97.36 L774.18,96.95 L775.7,96.34 L776.15,96.16 L776.96,95.83 L778.1,95.38 L779.5,94.82 L780.03,94.6 L780.77,94.31 L781.94,93.84 L783.31,93.29 L783.84,93.08 L784.58,92.78 L785.71,92.33 L787.11,91.76 L787.57,91.58 L788.38,91.26 L789.41,90.84 L790.92,90.24 L791.23,90.11 L792.19,89.73 L793.03,89.39 L793.46,89.22 L794.72,88.71 L795.99,88.2 L796.58,87.97 L797.26,87.69 L798.33,87.27 L799.8,86.68 L801.07,86.17 L801.76,85.89 L802.34,85.66 L803.46,85.21 L804.87,84.64 L806.14,84.13 L806.78,83.87 L807.41,83.62 L808.42,83.21 L809.95,82.6 L811.22,82.09 L811.64,81.92 L812.49,81.58 L813.22,81.28 L813.75,81.06 L814.79,80.65 L816.29,80.04 L817.56,79.53 L817.86,79.41 L818.83,79.01 L819.37,78.79 L820.1,78.5 L820.87,78.19 L821.37,77.99 L822.34,77.59 L822.63,77.47 L823.8,77.0 L825.17,76.44 L826.44,75.93 L827.71,75.41 L828.07,75.27 L828.98,74.9 L829.45,74.7 L830.25,74.38 L830.82,74.14 L831.51,73.86 L832.18,73.59 L832.78,73.34 L833.51,73.04 L834.05,72.82 L834.83,72.5 L835.32,72.3 L836.13,71.97 L836.59,71.78 L837.42,71.44 L837.86,71.26 L838.68,70.92 L839.13,70.74 L839.93,70.4 L840.39,70.21 L841.17,69.89 L841.66,69.69 L842.39,69.39 L842.93,69.16 L843.59,68.89 L844.2,68.64 L844.77,68.4 L845.47,68.11 L845.94,67.91 L846.74,67.58 L847.1,67.43 L848.01,67.05 L849.28,66.52 L850.46,66.02 L851.55,65.56 L852.62,65.11 L853.08,64.92 L853.68,64.66 L854.35,64.38 L854.72,64.22 L855.62,63.84 L856.76,63.35 L857.76,62.93 L858.16,62.76 L858.75,62.51 L859.42,62.22 L859.71,62.09 L860.67,61.68 L861.61,61.28 L861.96,61.12 L862.53,60.88 L863.23,60.57 L864.34,60.09 L865.22,59.71 L865.77,59.47 L866.09,59.32 L866.95,58.95 L867.79,58.58 L868.3,58.35 L868.62,58.21 L869.43,57.85 L870.23,57.49 L870.84,57.22 L871.8,56.8 L872.11,56.66 L872.56,56.45 L873.31,56.11 L874.05,55.78 L874.65,55.51 L875.49,55.13 L875.92,54.93 L876.88,54.49 L877.18,54.35 L877.56,54.18 L878.23,53.87 L878.88,53.57 L879.52,53.27 L880.16,52.97 L880.78,52.68 L881.39,52.39 L881.98,52.11 L882.26,51.98 L882.57,51.83 L883.15,51.55 L883.53,51.37 L884.27,51.01 L884.8,50.76 L885.36,50.49 L885.88,50.23 L886.4,49.98 L886.91,49.73 L887.33,49.51 L887.89,49.24 L888.37,49.0 L888.84,48.76 L889.3,48.53 L889.75,48.3 L890.2,48.07 L890.63,47.85 L891.06,47.63 L891.47,47.42 L891.88,47.2 L892.29,46.99 L892.68,46.79 L893.06,46.58 L893.44,46.38 L893.81,46.18 L894.17,45.99 L894.53,45.8 L894.88,45.61 L895.22,45.42 L895.55,45.24 L895.88,45.06 L896.19,44.88 L896.51,44.71 L896.81,44.53 L897.11,44.37 L897.41,44.2 L897.69,44.03 L897.97,43.87 L898.25,43.71 L898.52,43.56 L898.78,43.4 L899.04,43.25 L899.53,42.95 L900.01,42.67 L900.46,42.39 L900.9,42.12 L901.29,41.87 L901.71,41.61 L902.09,41.36 L902.45,41.12 L902.79,40.9 L903.12,40.68 L903.43,40.46 L903.72,40.26 L904.01,40.06 L904.27,39.86 L904.53,39.68 L904.77,39.5 L905.0,39.32 L905.33,39.07 L905.63,38.84 L905.91,38.61 L906.16,38.4 L906.4,38.2 L906.62,38.01 L906.88,37.77 L907.12,37.55 L907.33,37.34 L907.56,37.11 L907.76,36.89 L907.96,36.66 L908.16,36.43 L908.34,36.19 L908.52,35.93 L908.67,35.67 L908.8,35.39 L908.9,35.0" stroke="#7A91CA" />
<path d="M149.0,794.25 L149.0,793.83 L149.0,793.42 L149.01,793.02 L149.01,792.6 L149.01,792.16 L149.02,791.75 L149.03,791.34 L149.03,790.87 L149.04,790.42 L149.05,790.03 L149.06,789.61 L149.07,789.15 L149.08,788.65 L149.09,788.24 L149.1,787.81 L149.11,787.35 L149.12,786.87 L149.14,786.35 L149.15,785.81 L149.17,785.23 L149.18,784.82 L149.2,784.4 L149.21,783.97 L149.23,783.52 L149.25,783.05 L149.27,782.56 L149.29,782.05 L149.31,781.53 L149.33,780.99 L149.36,780.42 L149.38,779.84 L149.41,779.24 L149.44,778.61 L149.47,777.96 L149.51,777.29 L149.54,776.6 L149.58,775.88 L149.63,775.14 L149.65,774.76 L149.69,773.99 L149.72,773.59 L149.74,773.18 L149.77,772.77 L149.79,772.35 L149.82,771.93 L149.85,771.49 L149.88,771.06 L149.91,770.61 L149.94,770.16 L149.97,769.7 L150.0,769.23 L150.03,768.75 L150.07,768.27 L150.1,767.78 L150.14,767.28 L150.18,766.78 L150.22,766.27 L150.26,765.75 L150.3,765.22 L150.34,764.68 L150.38,764.14 L150.43,763.59 L150.48,763.03 L150.52,762.46 L150.57,761.88 L150.62,761.29 L150.67,760.7 L150.73,760.1 L150.78,759.49 L150.84,758.87 L150.9,758.24 L150.96,757.6 L151.02,756.95 L151.08,756.3 L151.15,755.63 L151.21,754.96 L151.28,754.27 L151.35,753.58 L151.43,752.88 L151.5,752.16 L151.58,751.44 L151.66,750.71 L151.74,749.97 L151.82,749.22 L151.91,748.46 L151.99,747.68 L152.08,746.9 L152.18,746.11 L152.27,745.31 L152.37,744.5 L152.47,743.67 L152.57,742.84 L152.68,742.0 L152.79,741.14 L152.9,740.28 L153.01,739.4 L153.13,738.52 L153.25,737.62 L153.37,736.71 L153.5,735.79 L153.63,734.86 L153.76,733.92 L153.89,732.96 L154.03,732.0 L154.18,731.02 L154.32,730.04 L154.47,729.04 L154.63,728.03 L154.78,727.0 L154.95,725.97 L155.11,724.92 L155.28,723.87 L155.34,723.48 L155.45,722.8 L155.63,721.72 L155.81,720.62 L156.0,719.52 L156.19,718.4 L156.39,717.27 L156.59,716.13 L156.79,714.98 L157.0,713.81 L157.22,712.63 L157.44,711.44 L157.66,710.24 L157.88,709.07 L158.12,707.79 L158.37,706.55 L158.61,705.3 L158.86,704.03 L159.12,702.75 L159.38,701.46 L159.65,700.15 L159.93,698.84 L160.21,697.51 L160.42,696.52 L160.49,696.16 L160.79,694.81 L161.09,693.44 L161.39,692.06 L161.69,690.75 L162.02,689.25 L162.35,687.83 L162.68,686.4 L162.95,685.25 L163.37,683.49 L163.73,682.02 L164.09,680.54 L164.22,679.99 L164.46,679.04 L164.84,677.53 L165.22,676.0 L165.49,674.94 L165.61,674.46 L166.02,672.91 L166.43,671.35 L166.76,670.08 L167.27,668.18 L167.7,666.58 L168.03,665.38 L168.15,664.96 L168.6,663.33 L169.06,661.69 L169.3,660.84 L169.53,660.03 L170.01,658.36 L170.5,656.68 L170.99,654.99 L171.5,653.28 L171.84,652.16 L172.02,651.56 L172.54,649.83 L173.08,648.08 L173.63,646.32 L174.18,644.55 L174.37,643.95 L174.75,642.77 L175.33,640.97 L175.64,640.0 L175.92,639.16 L176.51,637.34 L176.91,636.14 L177.12,635.5 L177.74,633.65 L178.18,632.37 L178.38,631.79 L179.02,629.92 L179.45,628.69 L179.67,628.03 L180.34,626.14 L180.72,625.07 L181.02,624.22 L181.71,622.3 L181.98,621.54 L182.41,620.37 L183.12,618.42 L183.25,618.07 L183.85,616.46 L184.52,614.66 L185.34,612.51 L185.79,611.32 L186.1,610.51 L186.88,608.51 L187.06,608.04 L187.67,606.49 L188.33,604.81 L188.47,604.46 L189.28,602.42 L189.6,601.64 L190.11,600.36 L190.86,598.51 L191.81,596.22 L192.13,595.44 L192.68,594.14 L193.4,592.41 L193.56,592.04 L194.46,589.93 L194.67,589.43 L195.37,587.81 L195.94,586.49 L196.29,585.68 L197.21,583.59 L198.19,581.38 L198.48,580.73 L199.15,579.22 L199.74,577.91 L200.14,577.05 L201.01,575.13 L202.15,572.67 L202.28,572.38 L203.18,570.46 L203.55,569.67 L204.22,568.25 L204.82,566.99 L205.28,566.02 L206.09,564.34 L206.35,563.79 L207.36,561.72 L208.55,559.29 L209.67,557.03 L209.89,556.58 L210.8,554.76 L211.16,554.05 L211.96,552.47 L212.43,551.54 L213.13,550.18 L213.7,549.07 L214.31,547.88 L214.97,546.62 L215.51,545.58 L216.24,544.2 L216.73,543.26 L217.51,541.8 L217.97,540.93 L218.77,539.42 L219.22,538.6 L220.04,537.07 L220.48,536.25 L221.31,534.74 L221.77,533.9 L222.58,532.43 L223.07,531.54 L223.85,530.15 L224.39,529.18 L225.12,527.88 L225.72,526.8 L226.39,525.64 L227.08,524.42 L227.65,523.41 L228.45,522.03 L228.92,521.21 L229.83,519.63 L230.19,519.02 L231.24,517.23 L231.46,516.85 L232.66,514.82 L234.0,512.57 L235.27,510.46 L235.56,509.98 L236.53,508.36 L237.03,507.54 L237.8,506.28 L238.53,505.11 L239.07,504.22 L240.04,502.66 L240.34,502.17 L241.57,500.21 L242.88,498.13 L243.11,497.76 L244.15,496.13 L244.68,495.29 L245.41,494.14 L246.26,492.83 L246.68,492.17 L247.86,490.35 L249.22,488.27 L249.48,487.88 L250.49,486.34 L251.12,485.39 L251.76,484.42 L252.77,482.9 L253.03,482.52 L254.29,480.63 L255.56,478.76 L256.14,477.91 L256.83,476.89 L257.85,475.41 L258.1,475.04 L259.37,473.2 L259.57,472.91 L260.64,471.37 L261.32,470.39 L261.91,469.56 L263.09,467.88 L264.44,465.96 L264.87,465.36 L265.71,464.18 L266.67,462.84 L266.98,462.41 L268.25,460.65 L268.49,460.32 L269.52,458.9 L270.33,457.79 L270.79,457.16 L272.06,455.44 L273.32,453.72 L274.06,452.72 L274.59,452.01 L275.86,450.31 L277.13,448.62 L277.87,447.65 L278.4,446.95 L279.67,445.28 L280.94,443.62 L281.75,442.56 L282.2,441.97 L283.47,440.33 L283.72,440.01 L284.74,438.7 L285.7,437.47 L286.01,437.07 L287.28,435.46 L287.71,434.92 L288.55,433.85 L289.73,432.37 L291.08,430.67 L291.77,429.81 L292.35,429.09 L293.62,427.52 L293.83,427.26 L294.89,425.95 L295.9,424.71 L296.16,424.4 L297.43,422.85 L298.0,422.15 L298.7,421.31 L299.97,419.77 L301.23,418.25 L302.24,417.04 L302.5,416.73 L303.77,415.22 L304.39,414.48 L305.04,413.72 L306.31,412.22 L306.56,411.93 L307.58,410.74 L308.74,409.37 L310.11,407.78 L310.95,406.82 L311.38,406.31 L312.65,404.85 L313.16,404.26 L313.92,403.4 L315.19,401.95 L315.4,401.71 L316.46,400.51 L317.66,399.16 L318.99,397.65 L319.93,396.6 L320.26,396.23 L321.53,394.82 L322.22,394.05 L322.8,393.41 L324.07,392.01 L324.52,391.5 L325.34,390.61 L326.61,389.22 L326.85,388.96 L327.87,387.84 L329.14,386.46 L330.41,385.09 L331.54,383.87 L332.95,382.36 L333.92,381.33 L334.22,381.01 L335.49,379.66 L336.31,378.79 L336.75,378.32 L338.02,376.98 L338.72,376.25 L339.29,375.65 L340.56,374.32 L341.14,373.72 L341.83,373.0 L343.1,371.68 L343.58,371.19 L344.37,370.37 L345.64,369.07 L346.03,368.66 L346.9,367.77 L348.17,366.47 L348.51,366.13 L349.44,365.18 L350.71,363.9 L350.99,363.61 L351.98,362.62 L353.25,361.34 L353.5,361.09 L354.52,360.07 L355.78,358.81 L356.01,358.58 L357.05,357.55 L358.32,356.29 L358.55,356.07 L359.59,355.04 L360.86,353.8 L361.1,353.56 L362.13,352.56 L363.4,351.32 L363.66,351.06 L364.66,350.09 L365.93,348.86 L366.24,348.57 L367.2,347.64 L368.47,346.42 L368.83,346.07 L369.74,345.2 L371.01,343.99 L371.44,343.59 L372.28,342.79 L373.54,341.59 L374.06,341.1 L374.81,340.39 L376.08,339.2 L376.7,338.62 L377.35,338.01 L378.62,336.83 L379.35,336.15 L379.89,335.65 L381.16,334.47 L382.01,333.69 L382.43,333.3 L383.69,332.14 L384.69,331.22 L384.96,330.97 L386.23,329.81 L387.38,328.77 L388.77,327.51 L390.04,326.36 L391.31,325.22 L392.57,324.08 L392.8,323.88 L393.84,322.94 L395.11,321.81 L395.53,321.44 L396.38,320.68 L397.65,319.56 L398.27,319.01 L398.92,318.43 L400.19,317.32 L401.02,316.58 L401.45,316.2 L402.72,315.09 L403.79,314.17 L405.26,312.89 L406.53,311.79 L407.8,310.69 L409.07,309.6 L409.35,309.35 L410.33,308.51 L411.6,307.43 L412.15,306.96 L412.87,306.34 L414.14,305.27 L414.96,304.57 L415.41,304.19 L416.68,303.12 L417.79,302.19 L419.21,300.99 L420.48,299.93 L421.75,298.87 L423.02,297.81 L423.46,297.45 L424.29,296.76 L425.56,295.71 L426.32,295.09 L426.83,294.67 L428.1,293.63 L429.18,292.74 L430.63,291.55 L431.9,290.52 L433.17,289.49 L434.44,288.46 L434.94,288.06 L435.71,287.44 L436.98,286.42 L437.83,285.74 L438.24,285.4 L439.51,284.39 L440.73,283.42 L442.05,282.37 L443.32,281.37 L443.64,281.11 L444.59,280.36 L445.86,279.36 L446.55,278.81 L447.12,278.37 L448.39,277.37 L449.48,276.52 L450.93,275.39 L452.2,274.41 L453.47,273.43 L454.74,272.45 L455.35,271.97 L456.0,271.47 L457.27,270.5 L458.3,269.71 L458.54,269.53 L459.81,268.56 L461.08,267.59 L462.35,266.63 L463.62,265.67 L464.22,265.21 L464.88,264.71 L466.15,263.76 L467.18,262.98 L467.42,262.8 L468.69,261.85 L469.96,260.91 L471.23,259.96 L472.5,259.02 L473.14,258.54 L473.77,258.08 L475.03,257.14 L476.12,256.34 L477.57,255.28 L478.84,254.35 L479.11,254.15 L480.11,253.42 L481.38,252.5 L482.11,251.96 L482.65,251.58 L483.91,250.66 L485.11,249.79 L486.45,248.82 L487.72,247.91 L488.11,247.63 L488.99,247.0 L490.26,246.1 L491.12,245.48 L491.53,245.19 L492.79,244.29 L494.06,243.39 L495.33,242.49 L496.6,241.6 L497.15,241.21 L497.87,240.7 L499.14,239.81 L500.17,239.09 L500.41,238.92 L501.67,238.04 L502.94,237.15 L503.19,236.98 L504.21,236.27 L505.48,235.39 L506.22,234.88 L506.75,234.51 L508.02,233.64 L509.24,232.8 L510.56,231.9 L511.82,231.03 L512.27,230.72 L513.09,230.16 L514.36,229.3 L515.3,228.66 L515.63,228.44 L516.9,227.58 L518.17,226.72 L519.44,225.86 L520.7,225.01 L521.37,224.57 L521.97,224.16 L523.24,223.31 L524.4,222.54 L525.78,221.62 L527.05,220.78 L527.43,220.52 L528.32,219.94 L529.58,219.1 L530.47,218.52 L530.85,218.26 L532.12,217.43 L533.39,216.6 L534.66,215.77 L535.93,214.94 L536.53,214.54 L537.2,214.11 L538.46,213.29 L539.57,212.57 L541.0,211.64 L542.27,210.83 L542.6,210.61 L543.54,210.01 L544.81,209.2 L545.63,208.67 L546.08,208.38 L547.34,207.57 L548.61,206.76 L549.88,205.96 L551.15,205.15 L551.68,204.82 L552.42,204.35 L553.69,203.55 L554.71,202.91 L554.96,202.75 L556.23,201.95 L557.49,201.16 L558.76,200.36 L560.03,199.57 L560.75,199.13 L561.3,198.78 L562.57,198.0 L563.77,197.25 L565.11,196.43 L566.37,195.64 L566.78,195.4 L567.64,194.86 L568.91,194.08 L569.79,193.55 L570.18,193.31 L571.45,192.53 L572.72,191.76 L573.99,190.99 L575.25,190.22 L575.79,189.89 L576.52,189.45 L577.79,188.68 L578.79,188.08 L579.06,187.92 L580.33,187.16 L581.6,186.4 L582.87,185.64 L584.13,184.88 L584.76,184.51 L585.4,184.12 L586.67,183.37 L587.74,182.73 L589.21,181.87 L590.48,181.12 L591.75,180.37 L593.02,179.62 L593.68,179.23 L594.28,178.88 L595.55,178.14 L596.64,177.5 L598.09,176.66 L599.36,175.92 L600.63,175.19 L601.9,174.45 L602.55,174.08 L603.16,173.72 L604.43,172.99 L605.49,172.38 L606.97,171.53 L608.24,170.81 L609.51,170.08 L610.78,169.36 L611.35,169.04 L612.04,168.64 L613.31,167.92 L614.26,167.38 L614.58,167.2 L615.85,166.48 L617.12,165.77 L618.39,165.06 L619.66,164.35 L620.07,164.11 L620.92,163.64 L622.19,162.93 L622.96,162.5 L623.46,162.22 L624.73,161.51 L625.85,160.9 L627.27,160.11 L628.54,159.41 L629.8,158.71 L631.07,158.01 L631.58,157.73 L632.34,157.31 L633.61,156.62 L634.44,156.17 L634.88,155.93 L636.15,155.23 L637.28,154.62 L638.69,153.85 L639.95,153.17 L641.22,152.48 L642.49,151.8 L642.94,151.56 L643.76,151.11 L645.03,150.43 L645.75,150.05 L646.3,149.75 L647.57,149.07 L648.55,148.55 L648.83,148.4 L650.1,147.72 L651.34,147.07 L652.64,146.37 L653.91,145.7 L655.18,145.03 L656.45,144.36 L656.88,144.14 L657.71,143.7 L658.98,143.03 L659.63,142.69 L660.25,142.37 L661.52,141.7 L662.37,141.26 L662.79,141.04 L664.06,140.38 L665.1,139.84 L666.59,139.07 L667.82,138.43 L669.13,137.76 L670.4,137.1 L671.67,136.45 L672.94,135.8 L673.21,135.66 L674.21,135.15 L675.47,134.51 L675.89,134.29 L676.74,133.86 L678.01,133.21 L678.55,132.94 L679.28,132.57 L680.55,131.93 L681.2,131.6 L681.82,131.29 L683.09,130.65 L683.84,130.27 L684.36,130.01 L685.62,129.37 L686.46,128.95 L686.89,128.74 L688.16,128.1 L689.07,127.65 L689.43,127.47 L690.7,126.84 L691.66,126.36 L691.97,126.21 L693.24,125.58 L694.24,125.08 L695.77,124.32 L696.8,123.82 L698.31,123.08 L699.35,122.56 L700.85,121.83 L701.89,121.32 L703.38,120.59 L704.4,120.1 L705.92,119.36 L706.91,118.88 L707.19,118.75 L708.46,118.13 L709.39,117.68 L709.73,117.52 L711.0,116.91 L711.87,116.49 L712.26,116.3 L713.53,115.69 L714.32,115.31 L714.8,115.08 L716.07,114.48 L716.76,114.15 L717.34,113.87 L718.61,113.27 L719.18,113.0 L719.88,112.67 L721.15,112.07 L721.59,111.85 L722.41,111.47 L723.68,110.87 L723.98,110.73 L724.95,110.27 L726.22,109.67 L727.49,109.08 L728.71,108.51 L730.03,107.89 L731.05,107.41 L732.56,106.71 L733.38,106.33 L733.83,106.12 L735.1,105.54 L735.68,105.27 L736.37,104.95 L737.64,104.36 L737.97,104.21 L738.91,103.78 L740.17,103.2 L741.44,102.62 L742.5,102.13 L743.98,101.46 L744.74,101.11 L745.25,100.88 L746.52,100.3 L746.95,100.1 L747.79,99.73 L749.05,99.15 L750.32,98.58 L751.34,98.12 L752.86,97.44 L753.51,97.14 L754.13,96.87 L755.4,96.3 L756.67,95.73 L757.79,95.23 L759.2,94.6 L759.9,94.29 L760.47,94.03 L761.74,93.47 L763.01,92.91 L764.07,92.44 L765.55,91.79 L766.13,91.53 L766.82,91.23 L768.08,90.67 L769.35,90.12 L770.19,89.75 L770.62,89.56 L771.89,89.01 L772.2,88.88 L773.16,88.46 L774.18,88.01 L775.7,87.36 L776.15,87.16 L776.96,86.81 L778.1,86.32 L779.5,85.71 L780.03,85.48 L780.77,85.17 L781.94,84.66 L783.31,84.08 L783.84,83.85 L784.58,83.54 L785.71,83.05 L787.11,82.45 L787.57,82.26 L788.38,81.92 L789.41,81.48 L790.92,80.84 L791.23,80.71 L792.19,80.31 L793.03,79.95 L793.46,79.77 L794.72,79.24 L795.99,78.7 L796.58,78.46 L797.26,78.17 L798.33,77.73 L799.8,77.11 L801.07,76.59 L801.76,76.3 L802.34,76.06 L803.46,75.59 L804.87,75.01 L806.14,74.48 L806.78,74.22 L807.41,73.96 L808.42,73.55 L809.95,72.92 L811.22,72.4 L811.64,72.23 L812.49,71.88 L813.22,71.58 L813.75,71.37 L814.79,70.94 L816.29,70.33 L817.56,69.82 L817.86,69.7 L818.83,69.31 L819.37,69.09 L820.1,68.79 L820.87,68.48 L821.37,68.28 L822.34,67.89 L822.63,67.77 L823.8,67.31 L825.17,66.76 L826.44,66.25 L827.71,65.75 L828.07,65.6 L828.98,65.24 L829.45,65.05 L830.25,64.74 L830.82,64.51 L831.51,64.23 L832.18,63.97 L832.78,63.73 L833.51,63.45 L834.05,63.23 L834.83,62.93 L835.32,62.73 L836.13,62.41 L836.59,62.23 L837.42,61.91 L837.86,61.74 L838.68,61.41 L839.13,61.24 L839.93,60.93 L840.39,60.75 L841.17,60.44 L841.66,60.25 L842.39,59.97 L842.93,59.76 L843.59,59.5 L844.2,59.27 L844.77,59.04 L845.47,58.77 L845.94,58.59 L846.74,58.28 L847.1,58.15 L848.01,57.79 L849.28,57.31 L850.46,56.85 L851.55,56.43 L852.62,56.02 L853.08,55.85 L853.68,55.62 L854.35,55.36 L854.72,55.22 L855.62,54.88 L856.76,54.44 L857.76,54.06 L858.16,53.92 L858.75,53.69 L859.42,53.44 L859.71,53.33 L860.67,52.96 L861.61,52.61 L861.96,52.48 L862.53,52.26 L863.23,52.0 L864.34,51.58 L865.22,51.25 L865.77,51.05 L866.09,50.92 L866.95,50.6 L867.79,50.29 L868.3,50.1 L868.62,49.98 L869.43,49.68 L870.23,49.38 L870.84,49.15 L871.8,48.8 L872.11,48.68 L872.56,48.51 L873.31,48.23 L874.05,47.96 L874.65,47.74 L875.49,47.43 L875.92,47.27 L876.88,46.91 L877.18,46.8 L877.56,46.66 L878.23,46.42 L878.88,46.18 L879.52,45.94 L880.16,45.71 L880.78,45.48 L881.39,45.26 L881.98,45.04 L882.57,44.82 L883.15,44.61 L883.53,44.47 L884.27,44.2 L884.8,44.01 L885.36,43.8 L885.88,43.61 L886.4,43.42 L886.91,43.24 L887.33,43.08 L887.89,42.88 L888.37,42.7 L888.84,42.53 L889.3,42.36 L889.75,42.2 L890.2,42.04 L890.63,41.88 L891.06,41.72 L891.47,41.57 L891.88,41.42 L892.29,41.28 L892.68,41.13 L893.06,40.99 L893.44,40.86 L893.81,40.72 L894.17,40.59 L894.53,40.46 L894.88,40.33 L895.22,40.21 L895.55,40.09 L895.88,39.97 L896.19,39.85 L896.51,39.74 L896.81,39.63 L897.11,39.52 L897.41,39.41 L897.97,39.2 L898.52,39.01 L899.04,38.82 L899.53,38.63 L900.01,38.46 L900.46,38.29 L900.9,38.13 L901.29,37.99 L901.71,37.83 L902.09,37.69 L902.45,37.56 L902.79,37.43 L903.12,37.31 L903.43,37.2 L903.72,37.09 L904.14,36.93 L904.53,36.78 L904.89,36.65 L905.22,36.52 L905.53,36.4 L905.82,36.29 L906.16,36.16 L906.47,36.04 L906.82,35.9 L907.12,35.78 L907.42,35.66 L907.72,35.54 L908.02,35.41 L908.32,35.29 L908.6,35.16 L908.9,35.0" stroke="#E874BF" />
<path d="M149.0,794.25 L149.0,793.84 L149.0,793.41 L149.0,792.99 L149.0,792.56 L149.0,792.12 L149.0,791.7 L149.01,791.29 L149.01,790.82 L149.01,790.37 L149.01,789.88 L149.01,789.45 L149.02,788.97 L149.02,788.46 L149.02,788.05 L149.02,787.61 L149.03,787.15 L149.03,786.65 L149.04,786.13 L149.04,785.58 L149.05,784.99 L149.05,784.58 L149.05,784.16 L149.06,783.72 L149.06,783.26 L149.07,782.78 L149.07,782.29 L149.08,781.78 L149.09,781.25 L149.09,780.71 L149.1,780.14 L149.11,779.55 L149.12,778.94 L149.13,778.31 L149.14,777.66 L149.15,776.99 L149.16,776.29 L149.17,775.58 L149.18,774.83 L149.2,774.06 L149.21,773.67 L149.22,772.86 L149.23,772.45 L149.24,772.03 L149.25,771.61 L149.26,771.17 L149.27,770.73 L149.28,770.29 L149.29,769.83 L149.3,769.37 L149.31,768.9 L149.32,768.43 L149.33,767.95 L149.34,767.46 L149.36,766.96 L149.37,766.45 L149.38,765.94 L149.4,765.42 L149.41,764.89 L149.43,764.36 L149.44,763.81 L149.46,763.26 L149.47,762.7 L149.49,762.14 L149.51,761.56 L149.53,760.97 L149.54,760.38 L149.56,759.78 L149.58,759.17 L149.6,758.55 L149.63,757.93 L149.65,757.29 L149.67,756.64 L149.69,755.99 L149.72,755.33 L149.74,754.66 L149.77,753.97 L149.79,753.28 L149.82,752.58 L149.85,751.88 L149.88,751.16 L149.91,750.43 L149.94,749.69 L149.97,748.94 L150.0,748.19 L150.03,747.42 L150.07,746.64 L150.1,745.85 L150.14,745.06 L150.18,744.25 L150.22,743.43 L150.26,742.6 L150.3,741.77 L150.34,740.92 L150.38,740.06 L150.43,739.19 L150.48,738.31 L150.52,737.42 L150.57,736.51 L150.62,735.6 L150.67,734.68 L150.73,733.74 L150.78,732.8 L150.84,731.84 L150.9,730.87 L150.96,729.89 L151.02,728.9 L151.08,727.9 L151.15,726.89 L151.21,725.86 L151.28,724.82 L151.35,723.78 L151.43,722.72 L151.5,721.64 L151.54,721.13 L151.58,720.56 L151.66,719.47 L151.74,718.36 L151.82,717.24 L151.91,716.11 L151.99,714.97 L152.08,713.81 L152.18,712.64 L152.27,711.47 L152.37,710.27 L152.47,709.07 L152.57,707.85 L152.68,706.63 L152.79,705.39 L152.9,704.13 L153.01,702.87 L153.13,701.59 L153.25,700.3 L153.37,699.0 L153.5,697.68 L153.63,696.35 L153.76,695.01 L153.89,693.66 L154.03,692.29 L154.07,691.89 L154.18,690.91 L154.32,689.52 L154.47,688.12 L154.63,686.7 L154.78,685.27 L154.95,683.83 L155.11,682.37 L155.28,680.91 L155.34,680.37 L155.45,679.43 L155.63,677.93 L155.81,676.43 L156.0,674.91 L156.19,673.38 L156.39,671.83 L156.59,670.27 L156.79,668.7 L157.0,667.12 L157.22,665.52 L157.44,663.91 L157.66,662.29 L157.88,660.72 L158.12,659.01 L158.37,657.35 L158.61,655.68 L158.86,653.99 L159.12,652.29 L159.38,650.58 L159.65,648.86 L159.93,647.12 L160.21,645.38 L160.42,644.08 L160.49,643.61 L160.79,641.84 L161.09,640.05 L161.39,638.26 L161.69,636.55 L162.02,634.62 L162.35,632.79 L162.68,630.94 L162.95,629.46 L163.02,629.08 L163.37,627.21 L163.73,625.32 L164.09,623.43 L164.22,622.73 L164.46,621.52 L164.84,619.6 L165.22,617.66 L165.49,616.32 L165.61,615.72 L166.02,613.76 L166.43,611.8 L166.76,610.2 L166.84,609.82 L167.27,607.83 L167.7,605.82 L168.03,604.34 L168.15,603.81 L168.6,601.79 L169.06,599.75 L169.3,598.7 L169.53,597.7 L170.01,595.64 L170.5,593.57 L170.99,591.49 L171.5,589.4 L171.84,588.04 L172.02,587.3 L172.54,585.19 L173.08,583.06 L173.63,580.93 L174.18,578.79 L174.37,578.06 L174.75,576.63 L175.33,574.47 L175.64,573.3 L175.92,572.29 L176.51,570.11 L176.91,568.68 L177.12,567.91 L177.74,565.71 L178.18,564.19 L178.38,563.5 L179.02,561.27 L179.45,559.81 L179.67,559.04 L180.34,556.8 L180.72,555.55 L181.02,554.55 L181.71,552.29 L181.98,551.39 L182.41,550.02 L183.12,547.74 L183.25,547.33 L183.85,545.45 L184.52,543.36 L185.34,540.86 L185.79,539.48 L186.1,538.54 L186.88,536.22 L187.06,535.68 L187.67,533.9 L188.33,531.97 L188.47,531.56 L189.28,529.22 L189.6,528.32 L190.11,526.87 L190.86,524.75 L191.81,522.14 L192.13,521.25 L192.68,519.77 L193.4,517.81 L193.56,517.39 L194.46,515.0 L194.67,514.44 L195.37,512.61 L195.94,511.12 L196.29,510.21 L197.21,507.86 L198.19,505.39 L198.48,504.66 L199.15,502.97 L199.74,501.51 L200.14,500.54 L201.01,498.41 L201.14,498.11 L202.15,495.67 L202.28,495.36 L203.18,493.23 L203.55,492.35 L204.22,490.78 L204.82,489.39 L205.28,488.33 L206.09,486.48 L206.35,485.87 L207.36,483.6 L208.55,480.94 L209.67,478.47 L209.89,477.98 L210.8,476.0 L211.16,475.22 L211.96,473.51 L212.43,472.51 L213.13,471.03 L213.7,469.82 L214.31,468.54 L214.97,467.18 L215.51,466.05 L216.24,464.56 L216.73,463.55 L217.51,461.98 L217.97,461.05 L218.77,459.43 L219.22,458.55 L220.04,456.92 L220.48,456.05 L221.31,454.43 L221.77,453.54 L222.58,451.97 L223.07,451.03 L223.85,449.54 L224.39,448.51 L225.12,447.14 L225.72,446.0 L226.39,444.76 L227.08,443.48 L227.65,442.41 L228.45,440.96 L228.92,440.09 L229.83,438.44 L230.19,437.79 L231.24,435.91 L231.46,435.52 L232.66,433.39 L234.0,431.04 L235.27,428.84 L235.56,428.33 L236.53,426.66 L237.03,425.8 L237.8,424.5 L238.53,423.28 L239.07,422.36 L240.04,420.75 L240.34,420.24 L241.57,418.22 L242.88,416.07 L243.11,415.68 L244.15,414.01 L244.68,413.15 L245.41,411.97 L246.26,410.62 L246.68,409.95 L247.86,408.09 L249.22,405.96 L249.48,405.56 L250.49,404.0 L251.12,403.03 L251.76,402.05 L252.77,400.51 L253.03,400.12 L254.29,398.2 L255.56,396.3 L256.14,395.45 L256.83,394.42 L257.85,392.93 L258.1,392.55 L259.37,390.7 L259.57,390.4 L260.64,388.86 L261.32,387.88 L261.91,387.04 L263.09,385.36 L264.44,383.44 L264.87,382.84 L265.71,381.66 L266.67,380.33 L266.98,379.9 L268.25,378.15 L268.49,377.82 L269.52,376.41 L270.33,375.3 L270.79,374.69 L272.06,372.97 L273.32,371.28 L274.06,370.29 L274.59,369.59 L275.86,367.92 L277.13,366.25 L277.87,365.29 L278.4,364.6 L279.67,362.97 L280.94,361.34 L281.75,360.3 L282.2,359.73 L283.47,358.12 L283.72,357.82 L284.74,356.53 L285.7,355.33 L286.01,354.95 L287.28,353.38 L287.71,352.85 L288.55,351.82 L289.73,350.38 L291.08,348.73 L291.77,347.9 L292.35,347.2 L293.62,345.68 L293.83,345.44 L294.89,344.18 L295.9,342.98 L296.16,342.68 L297.43,341.19 L298.0,340.52 L298.7,339.71 L299.97,338.24 L301.23,336.78 L302.24,335.62 L302.5,335.32 L303.77,333.88 L304.39,333.18 L305.04,332.45 L306.31,331.02 L306.56,330.74 L307.58,329.61 L308.74,328.31 L310.11,326.8 L310.95,325.89 L311.38,325.41 L312.65,324.03 L313.16,323.47 L313.92,322.65 L315.19,321.29 L315.4,321.06 L316.46,319.93 L317.66,318.65 L318.99,317.24 L319.93,316.25 L320.26,315.9 L321.53,314.58 L322.22,313.86 L322.8,313.26 L324.07,311.94 L324.52,311.47 L325.34,310.64 L326.61,309.34 L326.85,309.1 L327.87,308.05 L329.14,306.77 L330.41,305.49 L331.54,304.36 L332.95,302.96 L333.92,302.0 L334.22,301.71 L335.49,300.46 L336.31,299.65 L336.75,299.22 L338.02,297.98 L338.72,297.31 L339.29,296.75 L340.56,295.53 L341.14,294.97 L341.83,294.31 L343.1,293.1 L343.58,292.65 L344.37,291.9 L345.64,290.7 L346.03,290.33 L346.9,289.51 L348.17,288.33 L348.51,288.02 L349.44,287.15 L350.71,285.98 L350.99,285.72 L351.98,284.81 L353.25,283.65 L353.5,283.42 L354.52,282.49 L355.78,281.35 L356.01,281.14 L357.05,280.2 L358.32,279.06 L358.55,278.86 L359.59,277.93 L360.86,276.8 L361.1,276.59 L362.13,275.68 L363.4,274.57 L363.66,274.34 L364.66,273.46 L365.93,272.35 L366.24,272.09 L367.2,271.25 L368.47,270.16 L368.83,269.85 L369.74,269.07 L371.01,267.98 L371.44,267.61 L372.28,266.9 L373.54,265.83 L374.06,265.39 L374.81,264.76 L376.08,263.69 L376.7,263.18 L377.35,262.63 L378.62,261.58 L379.35,260.98 L379.89,260.53 L381.16,259.49 L382.01,258.79 L382.43,258.44 L383.69,257.41 L384.69,256.6 L384.96,256.38 L386.23,255.35 L387.38,254.43 L388.77,253.31 L390.04,252.3 L391.31,251.29 L392.57,250.29 L392.8,250.11 L393.84,249.29 L395.11,248.3 L395.53,247.97 L396.38,247.3 L397.65,246.32 L398.27,245.84 L398.92,245.34 L400.19,244.36 L401.02,243.72 L401.45,243.39 L402.72,242.42 L403.79,241.61 L405.26,240.49 L406.53,239.53 L407.8,238.58 L409.07,237.63 L409.35,237.42 L410.33,236.69 L411.6,235.75 L412.15,235.34 L412.87,234.81 L414.14,233.88 L414.96,233.27 L415.41,232.95 L416.68,232.02 L417.79,231.21 L419.21,230.18 L420.48,229.27 L421.75,228.36 L423.02,227.45 L423.46,227.13 L424.29,226.55 L425.56,225.65 L426.32,225.11 L426.83,224.75 L428.1,223.86 L429.18,223.1 L430.63,222.09 L431.9,221.2 L433.17,220.33 L434.44,219.45 L434.94,219.11 L435.71,218.58 L436.98,217.71 L437.83,217.13 L438.24,216.85 L439.51,215.99 L440.73,215.17 L442.05,214.28 L443.32,213.43 L443.64,213.21 L444.59,212.58 L445.86,211.73 L446.55,211.27 L447.12,210.89 L448.39,210.06 L449.48,209.34 L450.93,208.39 L452.2,207.56 L453.47,206.74 L454.74,205.91 L455.35,205.52 L456.0,205.1 L457.27,204.28 L458.3,203.62 L459.81,202.66 L461.08,201.85 L462.35,201.05 L463.62,200.25 L464.22,199.87 L464.88,199.45 L466.15,198.65 L467.18,198.01 L468.69,197.07 L469.96,196.29 L471.23,195.5 L472.5,194.72 L473.14,194.33 L473.77,193.95 L475.03,193.17 L476.12,192.51 L477.57,191.63 L478.84,190.87 L479.11,190.7 L480.11,190.1 L481.38,189.34 L482.11,188.9 L482.65,188.58 L483.91,187.83 L485.11,187.12 L486.45,186.33 L487.72,185.58 L488.11,185.35 L488.99,184.84 L490.26,184.09 L491.12,183.59 L491.53,183.35 L492.79,182.62 L494.06,181.88 L495.33,181.15 L496.6,180.42 L497.15,180.11 L497.87,179.7 L499.14,178.97 L500.17,178.39 L501.67,177.53 L502.94,176.82 L504.21,176.1 L505.48,175.39 L506.22,174.98 L506.75,174.68 L508.02,173.98 L509.24,173.3 L510.56,172.57 L511.82,171.87 L512.27,171.63 L513.09,171.18 L514.36,170.48 L515.3,169.97 L515.63,169.79 L516.9,169.1 L518.17,168.42 L519.44,167.73 L520.7,167.05 L521.37,166.69 L521.97,166.37 L523.24,165.69 L524.4,165.07 L525.78,164.34 L527.05,163.67 L527.43,163.47 L528.32,163.0 L529.58,162.34 L530.47,161.87 L530.85,161.67 L532.12,161.01 L533.39,160.35 L534.66,159.69 L535.93,159.04 L536.53,158.72 L537.2,158.38 L538.46,157.73 L539.57,157.17 L541.0,156.44 L542.27,155.79 L542.6,155.62 L543.54,155.15 L544.81,154.51 L545.63,154.09 L546.08,153.87 L547.34,153.23 L548.61,152.6 L549.88,151.97 L551.15,151.34 L551.68,151.07 L552.42,150.71 L553.69,150.08 L554.71,149.58 L556.23,148.84 L557.49,148.22 L558.76,147.6 L560.03,146.99 L560.75,146.64 L561.3,146.37 L562.57,145.76 L563.77,145.18 L565.11,144.54 L566.37,143.94 L566.78,143.74 L567.64,143.33 L568.91,142.73 L569.79,142.32 L570.18,142.13 L571.45,141.53 L572.72,140.94 L573.99,140.34 L575.25,139.75 L575.79,139.5 L576.52,139.16 L577.79,138.57 L578.79,138.11 L579.06,137.98 L580.33,137.4 L581.6,136.82 L582.87,136.24 L584.13,135.66 L584.76,135.37 L585.4,135.08 L586.67,134.5 L587.74,134.02 L589.21,133.36 L590.48,132.79 L591.75,132.22 L593.02,131.65 L593.68,131.35 L594.28,131.09 L595.55,130.52 L596.64,130.04 L598.09,129.4 L599.36,128.85 L600.63,128.29 L601.9,127.74 L602.55,127.45 L603.16,127.18 L604.43,126.63 L605.49,126.18 L606.97,125.54 L608.24,124.99 L609.51,124.45 L610.78,123.9 L611.35,123.66 L612.04,123.36 L613.31,122.83 L614.26,122.42 L614.58,122.29 L615.85,121.75 L617.12,121.22 L618.39,120.69 L619.66,120.16 L620.07,119.98 L620.92,119.63 L622.19,119.1 L622.96,118.78 L623.46,118.58 L624.73,118.05 L625.85,117.59 L627.27,117.01 L628.54,116.49 L629.8,115.97 L631.07,115.46 L631.58,115.25 L632.34,114.94 L633.61,114.43 L634.44,114.1 L634.88,113.92 L636.15,113.41 L637.28,112.96 L638.69,112.39 L639.95,111.89 L641.22,111.39 L642.49,110.89 L642.94,110.71 L643.76,110.39 L645.03,109.89 L645.75,109.61 L646.3,109.39 L647.57,108.89 L648.55,108.51 L650.1,107.91 L651.34,107.43 L652.64,106.93 L653.91,106.44 L655.18,105.95 L656.45,105.47 L656.88,105.3 L657.71,104.99 L658.98,104.5 L659.63,104.26 L660.25,104.02 L661.52,103.54 L662.37,103.22 L662.79,103.07 L664.06,102.59 L665.1,102.2 L666.59,101.64 L667.82,101.19 L669.13,100.7 L670.4,100.23 L671.67,99.77 L672.94,99.3 L674.21,98.83 L675.47,98.37 L675.89,98.22 L676.74,97.91 L678.01,97.45 L678.55,97.25 L679.28,96.99 L680.55,96.53 L681.2,96.3 L681.82,96.08 L683.09,95.62 L683.84,95.36 L684.36,95.17 L685.62,94.72 L686.46,94.42 L686.89,94.27 L688.16,93.82 L689.07,93.5 L689.43,93.37 L690.7,92.93 L691.66,92.59 L691.97,92.48 L693.24,92.04 L694.24,91.69 L695.77,91.16 L696.8,90.8 L698.31,90.28 L699.35,89.92 L700.85,89.41 L701.89,89.05 L703.38,88.54 L704.4,88.19 L705.92,87.68 L706.91,87.35 L708.46,86.82 L709.39,86.51 L709.73,86.4 L711.0,85.97 L711.87,85.68 L712.26,85.55 L713.53,85.13 L714.32,84.87 L714.8,84.71 L716.07,84.29 L716.76,84.06 L717.34,83.87 L718.61,83.46 L719.18,83.27 L719.88,83.04 L721.15,82.63 L721.59,82.48 L722.41,82.21 L723.68,81.8 L724.95,81.39 L726.22,80.98 L727.49,80.58 L728.71,80.18 L730.03,79.77 L731.05,79.44 L732.56,78.96 L733.38,78.7 L733.83,78.56 L735.1,78.16 L735.68,77.98 L736.37,77.76 L737.64,77.36 L737.97,77.26 L738.91,76.97 L740.17,76.57 L741.44,76.18 L742.5,75.85 L743.98,75.4 L744.74,75.16 L745.25,75.01 L746.52,74.62 L746.95,74.48 L747.79,74.23 L749.05,73.85 L750.32,73.46 L751.34,73.15 L752.86,72.69 L753.51,72.5 L754.13,72.31 L755.4,71.93 L756.67,71.56 L757.79,71.22 L759.2,70.8 L759.9,70.6 L760.47,70.43 L761.74,70.05 L763.01,69.68 L764.07,69.37 L765.55,68.94 L766.13,68.77 L766.82,68.57 L768.08,68.2 L769.35,67.84 L770.19,67.6 L770.62,67.47 L771.89,67.11 L772.2,67.02 L773.16,66.75 L774.18,66.46 L775.7,66.03 L776.15,65.9 L776.96,65.67 L778.1,65.35 L779.5,64.95 L780.03,64.8 L780.77,64.6 L781.94,64.27 L783.31,63.89 L783.84,63.74 L784.58,63.54 L785.71,63.22 L787.11,62.84 L787.57,62.71 L788.38,62.49 L789.41,62.21 L790.92,61.8 L791.23,61.71 L792.19,61.45 L793.03,61.23 L793.46,61.11 L794.72,60.77 L795.99,60.43 L796.58,60.27 L797.26,60.09 L798.33,59.8 L799.8,59.41 L801.07,59.08 L801.76,58.89 L802.34,58.74 L803.46,58.45 L804.87,58.07 L806.14,57.74 L806.78,57.58 L807.41,57.41 L808.42,57.15 L809.95,56.76 L811.22,56.43 L811.64,56.32 L812.49,56.1 L813.22,55.91 L813.75,55.78 L814.79,55.52 L816.29,55.13 L817.56,54.81 L818.83,54.49 L819.37,54.36 L820.1,54.18 L820.87,53.98 L821.37,53.86 L822.34,53.62 L823.8,53.25 L825.17,52.91 L826.44,52.6 L827.71,52.29 L828.07,52.2 L828.98,51.98 L829.45,51.87 L830.25,51.67 L830.82,51.53 L831.51,51.36 L832.18,51.21 L832.78,51.06 L833.51,50.88 L834.05,50.75 L834.83,50.57 L835.32,50.45 L836.13,50.26 L836.59,50.15 L837.42,49.95 L837.86,49.85 L838.68,49.65 L839.13,49.55 L839.93,49.35 L840.39,49.25 L841.17,49.06 L841.66,48.95 L842.39,48.78 L842.93,48.65 L843.59,48.5 L844.2,48.36 L844.77,48.22 L845.47,48.06 L845.94,47.95 L846.74,47.77 L847.1,47.69 L848.01,47.48 L849.28,47.19 L850.46,46.92 L851.55,46.67 L852.62,46.43 L853.08,46.32 L853.68,46.19 L854.35,46.04 L854.72,45.95 L855.62,45.75 L856.76,45.5 L857.76,45.27 L858.16,45.19 L858.75,45.06 L859.42,44.91 L860.67,44.63 L861.61,44.43 L861.96,44.35 L862.53,44.23 L863.23,44.07 L864.34,43.83 L865.22,43.64 L865.77,43.52 L866.95,43.27 L867.79,43.09 L868.3,42.98 L869.43,42.74 L870.23,42.57 L870.84,42.44 L871.8,42.24 L872.56,42.08 L873.31,41.92 L874.05,41.77 L874.65,41.64 L875.49,41.47 L875.92,41.38 L876.88,41.18 L877.56,41.04 L878.23,40.9 L878.88,40.77 L879.52,40.64 L880.16,40.51 L880.78,40.38 L881.39,40.26 L881.98,40.14 L882.57,40.02 L883.15,39.9 L883.53,39.82 L884.27,39.68 L884.8,39.57 L885.36,39.46 L885.88,39.35 L886.4,39.25 L886.91,39.15 L887.33,39.07 L887.89,38.96 L888.37,38.86 L888.84,38.77 L889.3,38.68 L889.75,38.59 L890.2,38.51 L890.63,38.42 L891.06,38.34 L891.47,38.26 L891.88,38.18 L892.29,38.1 L892.68,38.03 L893.06,37.95 L893.44,37.88 L893.81,37.81 L894.17,37.74 L894.53,37.67 L894.88,37.6 L895.22,37.54 L895.88,37.41 L896.51,37.3 L897.11,37.18 L897.48,37.11 L897.97,37.02 L898.52,36.92 L899.04,36.82 L899.53,36.73 L900.01,36.64 L900.46,36.56 L900.9,36.47 L901.29,36.4 L901.71,36.33 L902.09,36.26 L902.45,36.19 L902.95,36.1 L903.43,36.01 L903.83,35.94 L904.27,35.86 L904.65,35.79 L905.0,35.72 L905.43,35.65 L905.82,35.58 L906.16,35.51 L906.55,35.44 L906.94,35.37 L907.33,35.3 L907.68,35.24 L908.02,35.17 L908.36,35.11 L908.9,35.0" stroke="#98CE38" />
<path d="M149.0,794.25 L149.0,793.84 L149.0,793.43 L149.0,793.0 L149.0,792.55 L149.0,792.09 L149.0,791.67 L149.0,791.26 L149.0,790.81 L149.0,790.39 L149.0,789.94 L149.0,789.44 L149.0,789.03 L149.0,788.59 L149.0,788.11 L149.0,787.61 L149.0,787.06 L149.0,786.48 L149.0,786.07 L149.01,785.64 L149.01,785.2 L149.01,784.73 L149.01,784.24 L149.01,783.73 L149.01,783.19 L149.01,782.64 L149.01,782.06 L149.01,781.45 L149.01,780.82 L149.01,780.16 L149.01,779.48 L149.02,778.77 L149.02,778.03 L149.02,777.26 L149.02,776.46 L149.02,776.04 L149.02,775.62 L149.02,775.2 L149.02,774.76 L149.02,774.31 L149.03,773.86 L149.03,773.4 L149.03,772.93 L149.03,772.45 L149.03,771.96 L149.03,771.46 L149.03,770.95 L149.03,770.44 L149.04,769.91 L149.04,769.38 L149.04,768.83 L149.04,768.28 L149.04,767.71 L149.04,767.14 L149.05,766.56 L149.05,765.96 L149.05,765.36 L149.05,764.74 L149.05,764.11 L149.06,763.48 L149.06,762.83 L149.06,762.17 L149.06,761.5 L149.07,760.82 L149.07,760.13 L149.07,759.42 L149.07,758.71 L149.08,757.98 L149.08,757.24 L149.08,756.49 L149.09,755.72 L149.09,754.95 L149.09,754.16 L149.1,753.36 L149.1,752.54 L149.1,751.72 L149.11,750.88 L149.11,750.03 L149.12,749.16 L149.12,748.28 L149.13,747.39 L149.13,746.49 L149.14,745.57 L149.14,744.64 L149.15,743.69 L149.15,742.73 L149.16,741.76 L149.17,740.77 L149.17,739.76 L149.18,738.75 L149.18,737.72 L149.19,736.67 L149.2,735.61 L149.21,734.54 L149.21,733.44 L149.22,732.34 L149.23,731.22 L149.24,730.08 L149.25,728.93 L149.26,727.77 L149.27,726.59 L149.28,725.39 L149.29,724.18 L149.3,722.95 L149.31,721.7 L149.32,720.44 L149.33,719.17 L149.34,717.88 L149.36,716.57 L149.37,715.24 L149.38,713.9 L149.4,712.54 L149.41,711.17 L149.43,709.78 L149.44,708.37 L149.46,706.95 L149.47,705.51 L149.49,704.05 L149.51,702.58 L149.53,701.09 L149.54,699.58 L149.56,698.06 L149.58,696.52 L149.6,694.96 L149.63,693.38 L149.65,691.79 L149.67,690.18 L149.69,688.55 L149.72,686.91 L149.74,685.25 L149.77,683.57 L149.79,681.87 L149.82,680.16 L149.85,678.43 L149.88,676.68 L149.91,674.91 L149.94,673.13 L149.97,671.33 L150.0,669.51 L150.03,667.68 L150.07,665.83 L150.1,663.96 L150.14,662.07 L150.18,660.17 L150.22,658.25 L150.26,656.31 L150.27,655.77 L150.3,654.35 L150.34,652.38 L150.38,650.39 L150.43,648.38 L150.48,646.36 L150.52,644.32 L150.57,642.26 L150.62,640.18 L150.67,638.09 L150.73,635.98 L150.78,633.86 L150.84,631.72 L150.9,629.56 L150.96,627.38 L151.02,625.19 L151.08,622.99 L151.15,620.76 L151.21,618.52 L151.28,616.27 L151.35,614.0 L151.43,611.71 L151.5,609.4 L151.54,608.3 L151.58,607.09 L151.66,604.75 L151.74,602.4 L151.82,600.04 L151.91,597.66 L151.99,595.26 L152.08,592.85 L152.18,590.43 L152.27,587.99 L152.37,585.53 L152.47,583.06 L152.57,580.58 L152.68,578.09 L152.79,575.58 L152.81,575.1 L152.9,573.05 L153.01,570.51 L153.13,567.96 L153.25,565.4 L153.37,562.82 L153.5,560.23 L153.63,557.63 L153.76,555.02 L153.89,552.39 L154.03,549.75 L154.07,548.98 L154.18,547.1 L154.32,544.44 L154.47,541.76 L154.63,539.08 L154.78,536.38 L154.95,533.67 L155.11,530.96 L155.28,528.23 L155.34,527.23 L155.45,525.49 L155.63,522.74 L155.81,519.98 L156.0,517.21 L156.19,514.44 L156.39,511.65 L156.59,508.86 L156.79,506.05 L157.0,503.24 L157.22,500.42 L157.44,497.59 L157.66,494.76 L157.88,492.03 L158.12,489.06 L158.37,486.21 L158.61,483.34 L158.86,480.47 L159.12,477.6 L159.38,474.71 L159.65,471.83 L159.93,468.93 L160.21,466.04 L160.42,463.89 L160.49,463.13 L160.79,460.22 L161.09,457.31 L161.39,454.4 L161.69,451.65 L162.02,448.56 L162.35,445.63 L162.68,442.7 L162.95,440.37 L163.02,439.77 L163.37,436.83 L163.73,433.9 L164.09,430.96 L164.22,429.89 L164.46,428.02 L164.84,425.08 L165.22,422.14 L165.49,420.11 L165.61,419.2 L166.02,416.25 L166.43,413.31 L166.76,410.94 L166.84,410.37 L167.27,407.43 L167.7,404.48 L168.03,402.31 L168.15,401.54 L168.6,398.6 L169.06,395.67 L169.3,394.16 L169.53,392.73 L170.01,389.79 L170.5,386.86 L170.57,386.44 L170.99,383.93 L171.5,381.01 L171.84,379.1 L172.02,378.08 L172.54,375.16 L173.08,372.25 L173.63,369.34 L174.18,366.43 L174.37,365.45 L174.75,363.53 L175.33,360.63 L175.64,359.08 L175.92,357.73 L176.51,354.84 L176.91,352.97 L177.12,351.96 L177.74,349.09 L178.18,347.11 L178.38,346.21 L179.02,343.35 L179.45,341.48 L179.67,340.49 L180.34,337.64 L180.72,336.06 L181.02,334.8 L181.71,331.96 L181.98,330.84 L182.41,329.13 L183.12,326.31 L183.25,325.8 L183.85,323.5 L184.52,320.94 L185.34,317.9 L185.79,316.24 L186.1,315.11 L186.88,312.33 L187.06,311.69 L187.67,309.56 L188.33,307.28 L188.47,306.8 L189.28,304.05 L189.6,303.01 L190.11,301.32 L190.86,298.87 L191.81,295.87 L192.13,294.85 L192.68,293.16 L193.4,290.94 L193.56,290.46 L194.46,287.77 L194.67,287.14 L195.37,285.1 L195.94,283.45 L196.29,282.44 L197.21,279.85 L198.19,277.14 L198.48,276.35 L199.15,274.51 L199.74,272.94 L200.14,271.9 L201.01,269.61 L201.14,269.29 L202.15,266.7 L202.28,266.37 L203.18,264.13 L203.55,263.2 L204.22,261.56 L204.82,260.11 L205.28,259.01 L206.09,257.09 L206.35,256.47 L207.36,254.14 L208.55,251.43 L209.67,248.93 L209.89,248.44 L210.8,246.45 L211.16,245.68 L211.96,243.98 L212.43,242.98 L213.13,241.53 L213.7,240.34 L214.31,239.08 L214.97,237.75 L215.51,236.66 L216.24,235.22 L216.73,234.25 L217.51,232.74 L217.97,231.85 L218.77,230.31 L219.22,229.47 L220.04,227.92 L220.48,227.1 L221.31,225.58 L221.77,224.75 L222.58,223.29 L223.07,222.41 L223.85,221.04 L224.39,220.09 L225.12,218.83 L225.72,217.79 L226.39,216.66 L227.08,215.5 L227.65,214.54 L228.45,213.23 L228.92,212.45 L229.83,210.97 L230.19,210.39 L231.24,208.73 L231.46,208.38 L232.66,206.5 L234.0,204.45 L235.27,202.54 L235.56,202.1 L236.53,200.65 L237.03,199.92 L237.8,198.8 L238.53,197.76 L239.07,196.98 L240.04,195.62 L240.34,195.19 L241.57,193.49 L242.88,191.7 L243.11,191.38 L244.15,189.99 L244.68,189.29 L245.41,188.31 L246.26,187.21 L246.68,186.66 L247.86,185.15 L249.22,183.43 L249.48,183.11 L250.49,181.85 L251.12,181.08 L251.76,180.3 L252.77,179.07 L253.03,178.77 L254.29,177.26 L255.56,175.77 L256.14,175.11 L256.83,174.31 L257.85,173.15 L258.1,172.86 L259.37,171.44 L259.57,171.21 L260.64,170.03 L261.32,169.29 L261.91,168.65 L263.09,167.38 L264.44,165.94 L264.87,165.49 L265.71,164.61 L266.67,163.62 L266.98,163.3 L268.25,162.01 L268.49,161.77 L269.52,160.74 L270.33,159.93 L270.79,159.48 L272.06,158.24 L273.32,157.02 L274.06,156.31 L274.59,155.81 L275.86,154.61 L277.13,153.44 L277.87,152.76 L278.4,152.27 L279.67,151.13 L280.94,149.99 L281.75,149.28 L282.2,148.88 L283.47,147.77 L283.72,147.56 L284.74,146.68 L285.7,145.86 L286.01,145.6 L287.28,144.54 L287.71,144.18 L288.55,143.49 L289.73,142.52 L291.08,141.42 L291.77,140.87 L292.35,140.41 L293.62,139.4 L294.89,138.41 L295.9,137.63 L296.16,137.44 L297.43,136.47 L298.0,136.04 L298.7,135.51 L299.97,134.57 L301.23,133.64 L302.24,132.9 L302.5,132.71 L303.77,131.8 L304.39,131.36 L305.04,130.9 L306.31,130.01 L306.56,129.83 L307.58,129.12 L308.74,128.32 L310.11,127.39 L310.95,126.83 L311.38,126.54 L312.65,125.69 L313.16,125.35 L313.92,124.86 L315.19,124.03 L316.46,123.22 L317.66,122.45 L318.99,121.61 L319.93,121.03 L320.26,120.82 L321.53,120.04 L322.22,119.62 L322.8,119.26 L324.07,118.5 L324.52,118.23 L325.34,117.74 L326.61,116.99 L327.87,116.25 L329.14,115.52 L330.41,114.79 L331.54,114.15 L332.95,113.36 L333.92,112.82 L334.22,112.66 L335.49,111.96 L336.31,111.51 L336.75,111.27 L338.02,110.59 L338.72,110.22 L339.29,109.91 L340.56,109.24 L341.14,108.94 L341.83,108.58 L343.1,107.93 L343.58,107.68 L344.37,107.28 L345.64,106.63 L346.03,106.43 L346.9,106.0 L348.17,105.37 L348.51,105.2 L349.44,104.74 L350.71,104.13 L350.99,103.99 L351.98,103.51 L353.25,102.91 L354.52,102.31 L355.78,101.71 L357.05,101.13 L358.32,100.54 L359.59,99.97 L360.86,99.39 L362.13,98.83 L363.4,98.27 L364.66,97.71 L365.93,97.16 L366.24,97.03 L367.2,96.62 L368.47,96.08 L368.83,95.92 L369.74,95.54 L371.01,95.01 L371.44,94.83 L372.28,94.48 L373.54,93.96 L374.06,93.75 L374.81,93.45 L376.08,92.94 L376.7,92.69 L377.35,92.43 L378.62,91.93 L379.35,91.64 L379.89,91.43 L381.16,90.94 L382.01,90.61 L382.43,90.45 L383.69,89.97 L384.69,89.59 L386.23,89.01 L387.38,88.59 L388.77,88.08 L390.04,87.62 L391.31,87.16 L392.57,86.7 L393.84,86.25 L395.11,85.81 L395.53,85.66 L396.38,85.37 L397.65,84.93 L398.27,84.72 L398.92,84.49 L400.19,84.06 L401.02,83.78 L401.45,83.64 L402.72,83.21 L403.79,82.86 L405.26,82.38 L406.53,81.97 L407.8,81.56 L409.07,81.15 L410.33,80.75 L411.6,80.35 L412.15,80.18 L412.87,79.96 L414.14,79.57 L414.96,79.32 L415.41,79.18 L416.68,78.8 L417.79,78.46 L419.21,78.04 L420.48,77.66 L421.75,77.29 L423.02,76.92 L423.46,76.79 L424.29,76.56 L425.56,76.19 L426.32,75.98 L426.83,75.84 L428.1,75.48 L429.18,75.18 L430.63,74.78 L431.9,74.43 L433.17,74.08 L434.44,73.74 L434.94,73.61 L435.71,73.4 L436.98,73.07 L437.83,72.84 L438.24,72.74 L439.51,72.41 L440.73,72.09 L442.05,71.75 L443.32,71.43 L443.64,71.35 L444.59,71.11 L445.86,70.8 L446.55,70.62 L447.12,70.48 L448.39,70.17 L449.48,69.9 L450.93,69.55 L452.2,69.25 L453.47,68.95 L454.74,68.65 L455.35,68.51 L456.0,68.35 L457.27,68.06 L458.3,67.82 L459.81,67.48 L461.08,67.19 L462.35,66.91 L463.62,66.62 L464.22,66.49 L464.88,66.34 L466.15,66.07 L467.18,65.84 L468.69,65.52 L469.96,65.25 L471.23,64.98 L472.5,64.71 L473.14,64.58 L473.77,64.45 L475.03,64.18 L476.12,63.96 L477.57,63.66 L478.84,63.41 L480.11,63.15 L481.38,62.9 L482.11,62.76 L482.65,62.65 L483.91,62.4 L485.11,62.17 L486.45,61.91 L487.72,61.67 L488.11,61.6 L488.99,61.43 L490.26,61.19 L491.12,61.03 L491.53,60.96 L492.79,60.72 L494.06,60.49 L495.33,60.26 L496.6,60.03 L497.15,59.93 L497.87,59.8 L499.14,59.58 L500.17,59.39 L501.67,59.13 L502.94,58.91 L504.21,58.69 L505.48,58.47 L506.22,58.35 L506.75,58.26 L508.02,58.05 L509.24,57.84 L510.56,57.62 L511.82,57.42 L512.27,57.34 L513.09,57.21 L514.36,57.0 L515.3,56.85 L516.9,56.6 L518.17,56.4 L519.44,56.2 L520.7,56.0 L521.37,55.9 L521.97,55.81 L523.24,55.61 L524.4,55.44 L525.78,55.23 L527.05,55.04 L527.43,54.98 L528.32,54.85 L529.58,54.67 L530.47,54.54 L530.85,54.48 L532.12,54.3 L533.39,54.12 L534.66,53.94 L535.93,53.76 L536.53,53.67 L537.2,53.58 L538.46,53.4 L539.57,53.25 L541.0,53.05 L542.27,52.88 L543.54,52.71 L544.81,52.54 L545.63,52.43 L546.08,52.37 L547.34,52.21 L548.61,52.04 L549.88,51.88 L551.15,51.71 L551.68,51.64 L552.42,51.55 L553.69,51.39 L554.71,51.26 L556.23,51.07 L557.49,50.92 L558.76,50.76 L560.03,50.61 L560.75,50.52 L561.3,50.45 L562.57,50.3 L563.77,50.16 L565.11,50.0 L566.37,49.85 L566.78,49.81 L567.64,49.71 L568.91,49.56 L569.79,49.46 L570.18,49.42 L571.45,49.27 L572.72,49.13 L573.99,48.99 L575.25,48.85 L575.79,48.79 L576.52,48.71 L577.79,48.57 L578.79,48.46 L580.33,48.3 L581.6,48.16 L582.87,48.03 L584.13,47.9 L584.76,47.83 L585.4,47.76 L586.67,47.63 L587.74,47.53 L589.21,47.38 L590.48,47.25 L591.75,47.12 L593.02,47.0 L593.68,46.93 L594.28,46.87 L595.55,46.75 L596.64,46.64 L598.09,46.51 L599.36,46.38 L600.63,46.27 L601.9,46.15 L602.55,46.09 L603.16,46.03 L604.43,45.91 L605.49,45.82 L606.97,45.68 L608.24,45.57 L609.51,45.45 L610.78,45.34 L611.35,45.29 L612.04,45.23 L613.31,45.12 L614.26,45.04 L615.85,44.9 L617.12,44.8 L618.39,44.69 L619.66,44.58 L620.07,44.55 L620.92,44.48 L622.19,44.37 L622.96,44.31 L623.46,44.27 L624.73,44.17 L625.85,44.08 L627.27,43.97 L628.54,43.87 L629.8,43.77 L631.07,43.67 L631.58,43.63 L632.34,43.57 L633.61,43.47 L634.44,43.41 L634.88,43.38 L636.15,43.28 L637.28,43.2 L638.69,43.1 L639.95,43.0 L641.22,42.91 L642.49,42.82 L642.94,42.79 L643.76,42.73 L645.03,42.64 L645.75,42.59 L646.3,42.55 L647.57,42.46 L648.55,42.4 L650.1,42.29 L651.34,42.21 L652.64,42.12 L653.91,42.03 L655.18,41.95 L656.45,41.87 L656.88,41.84 L657.71,41.78 L658.98,41.7 L659.63,41.66 L660.25,41.62 L661.52,41.54 L662.37,41.49 L662.79,41.46 L664.06,41.38 L665.1,41.32 L666.59,41.23 L667.82,41.15 L669.13,41.07 L670.4,41.0 L671.67,40.92 L672.94,40.85 L674.21,40.78 L675.47,40.7 L675.89,40.68 L676.74,40.63 L678.01,40.56 L678.55,40.53 L679.28,40.49 L680.55,40.42 L681.2,40.38 L681.82,40.35 L683.09,40.28 L683.84,40.24 L684.36,40.21 L685.62,40.14 L686.46,40.1 L686.89,40.07 L688.16,40.01 L689.07,39.96 L690.7,39.88 L691.66,39.83 L693.24,39.75 L694.24,39.7 L695.77,39.62 L696.8,39.57 L698.31,39.5 L699.35,39.44 L700.85,39.37 L701.89,39.32 L703.38,39.25 L704.4,39.21 L705.92,39.14 L706.91,39.09 L708.46,39.02 L709.39,38.98 L711.0,38.91 L711.87,38.87 L712.26,38.85 L713.53,38.79 L714.32,38.76 L714.8,38.74 L716.07,38.69 L716.76,38.66 L717.34,38.63 L718.61,38.58 L719.18,38.55 L719.88,38.53 L721.15,38.47 L721.59,38.45 L722.41,38.42 L723.68,38.37 L724.95,38.32 L726.22,38.27 L727.49,38.22 L728.71,38.17 L730.03,38.12 L731.05,38.08 L732.56,38.02 L733.38,37.99 L733.83,37.98 L735.1,37.93 L735.68,37.91 L736.37,37.88 L737.64,37.84 L738.91,37.79 L740.17,37.75 L741.44,37.7 L742.5,37.67 L743.98,37.62 L744.74,37.59 L745.25,37.57 L746.52,37.53 L746.95,37.52 L747.79,37.49 L749.05,37.45 L750.32,37.4 L751.34,37.37 L752.86,37.32 L753.51,37.3 L754.13,37.28 L755.4,37.24 L756.67,37.2 L757.79,37.17 L759.2,37.13 L759.9,37.11 L760.47,37.09 L761.74,37.05 L763.01,37.01 L764.07,36.98 L765.55,36.94 L766.13,36.92 L766.82,36.91 L768.08,36.87 L769.35,36.83 L770.19,36.81 L770.62,36.8 L771.89,36.77 L773.16,36.73 L774.18,36.7 L775.7,36.67 L776.15,36.65 L776.96,36.63 L778.1,36.6 L779.5,36.57 L780.03,36.56 L780.77,36.54 L781.94,36.51 L783.31,36.48 L783.84,36.46 L784.58,36.44 L785.71,36.42 L787.11,36.39 L787.57,36.37 L788.38,36.36 L789.41,36.33 L790.92,36.3 L792.19,36.27 L793.03,36.25 L793.46,36.24 L794.72,36.21 L795.99,36.19 L796.58,36.18 L797.26,36.16 L798.33,36.14 L799.8,36.11 L801.07,36.08 L801.76,36.07 L802.34,36.06 L803.46,36.04 L804.87,36.01 L806.14,35.98 L806.78,35.97 L807.41,35.96 L808.42,35.94 L809.95,35.91 L811.22,35.89 L811.64,35.88 L812.49,35.87 L813.22,35.85 L813.75,35.84 L814.79,35.83 L816.29,35.8 L817.56,35.78 L818.83,35.76 L819.37,35.75 L820.1,35.74 L820.87,35.73 L821.37,35.72 L822.34,35.7 L823.8,35.68 L825.17,35.66 L826.44,35.64 L827.71,35.62 L828.98,35.6 L829.45,35.59 L830.25,35.58 L830.82,35.58 L831.51,35.57 L832.18,35.56 L832.78,35.55 L833.51,35.54 L834.05,35.53 L834.83,35.52 L835.32,35.51 L836.13,35.5 L836.59,35.5 L837.42,35.49 L837.86,35.48 L838.68,35.47 L839.13,35.46 L839.93,35.45 L840.39,35.45 L841.17,35.44 L841.66,35.43 L842.39,35.42 L842.93,35.42 L843.59,35.41 L844.2,35.4 L844.77,35.4 L845.47,35.39 L845.94,35.38 L846.74,35.37 L848.01,35.36 L849.28,35.35 L850.46,35.33 L851.55,35.32 L852.62,35.31 L853.08,35.31 L853.68,35.3 L854.35,35.29 L855.62,35.28 L856.76,35.27 L857.76,35.26 L858.75,35.25 L859.42,35.25 L860.67,35.23 L861.61,35.23 L862.53,35.22 L863.23,35.21 L864.34,35.2 L865.22,35.2 L865.77,35.19 L866.95,35.18 L867.79,35.18 L868.3,35.17 L869.43,35.16 L870.23,35.16 L870.84,35.15 L871.8,35.15 L872.56,35.14 L873.31,35.14 L874.05,35.13 L874.65,35.13 L875.49,35.12 L875.92,35.12 L876.88,35.11 L877.56,35.11 L878.23,35.1 L878.88,35.1 L879.52,35.1 L880.16,35.09 L880.78,35.09 L881.39,35.09 L881.98,35.08 L882.57,35.08 L883.15,35.08 L883.72,35.07 L884.27,35.07 L884.8,35.07 L885.36,35.07 L885.88,35.06 L886.4,35.06 L886.91,35.06 L887.33,35.06 L887.89,35.05 L888.37,35.05 L888.84,35.05 L889.3,35.05 L889.75,35.05 L890.2,35.04 L890.63,35.04 L891.06,35.04 L891.47,35.04 L891.88,35.04 L892.29,35.04 L893.06,35.03 L893.68,35.03 L894.17,35.03 L894.88,35.03 L895.55,35.03 L896.19,35.02 L896.81,35.02 L897.41,35.02 L897.97,35.02 L898.52,35.02 L899.04,35.02 L899.53,35.01 L900.01,35.01 L900.46,35.01 L900.9,35.01 L901.31,35.01 L901.71,35.01 L902.27,35.01 L902.79,35.01 L903.27,35.01 L903.72,35.01 L904.14,35.0 L904.65,35.0 L905.09,35.0 L905.53,35.0 L905.99,35.0 L906.4,35.0 L906.82,35.0 L907.23,35.0 L907.64,35.0 L908.05,35.0 L908.46,35.0 L908.9,35.0" stroke="#FFD41C" />
<path d="M149.0,794.25 L149.01,793.85 L149.02,793.43 L149.03,793.02 L149.03,792.59 L149.04,792.19 L149.05,791.71 L149.06,791.26 L149.07,790.73 L149.08,790.29 L149.09,789.79 L149.1,789.25 L149.11,788.85 L149.12,788.42 L149.13,787.97 L149.14,787.48 L149.15,786.96 L149.16,786.41 L149.17,785.82 L149.18,785.19 L149.2,784.52 L149.21,783.81 L149.23,783.06 L149.24,782.66 L149.25,782.26 L149.26,781.84 L149.27,781.41 L149.28,780.96 L149.29,780.51 L149.3,780.04 L149.31,779.55 L149.32,779.06 L149.33,778.54 L149.34,778.02 L149.36,777.48 L149.37,776.92 L149.38,776.35 L149.4,775.76 L149.41,775.16 L149.43,774.54 L149.44,773.9 L149.46,773.25 L149.47,772.58 L149.49,771.89 L149.51,771.18 L149.53,770.45 L149.54,769.71 L149.56,768.95 L149.58,768.16 L149.6,767.36 L149.63,766.54 L149.65,765.7 L149.67,764.83 L149.69,763.95 L149.72,763.04 L149.74,762.11 L149.77,761.16 L149.79,760.19 L149.82,759.19 L149.85,758.17 L149.88,757.13 L149.91,756.06 L149.94,754.97 L149.97,753.85 L150.0,752.71 L150.03,751.54 L150.07,750.35 L150.1,749.13 L150.14,747.89 L150.18,746.62 L150.22,745.32 L150.26,743.99 L150.3,742.64 L150.34,741.26 L150.38,739.85 L150.43,738.41 L150.48,736.94 L150.52,735.45 L150.57,733.92 L150.62,732.37 L150.67,730.78 L150.73,729.17 L150.78,727.52 L150.84,725.84 L150.9,724.13 L150.96,722.39 L151.02,720.62 L151.08,718.82 L151.15,716.98 L151.21,715.12 L151.28,713.22 L151.35,711.28 L151.43,709.32 L151.5,707.32 L151.54,706.35 L151.58,705.29 L151.66,703.22 L151.74,701.12 L151.82,698.99 L151.91,696.82 L151.99,694.62 L152.08,692.39 L152.18,690.12 L152.27,687.81 L152.37,685.48 L152.47,683.1 L152.57,680.7 L152.68,678.26 L152.79,675.78 L152.81,675.31 L152.9,673.27 L153.01,670.73 L153.13,668.15 L153.25,665.53 L153.37,662.89 L153.5,660.2 L153.63,657.49 L153.76,654.73 L153.89,651.95 L154.03,649.13 L154.07,648.3 L154.18,646.27 L154.32,643.39 L154.47,640.47 L154.63,637.51 L154.78,634.52 L154.95,631.5 L155.11,628.45 L155.28,625.36 L155.34,624.23 L155.45,622.24 L155.63,619.09 L155.81,615.9 L156.0,612.69 L156.19,609.44 L156.39,606.16 L156.59,602.85 L156.61,602.45 L156.79,599.51 L157.0,596.14 L157.22,592.74 L157.44,589.31 L157.66,585.86 L157.88,582.51 L158.12,578.86 L158.37,575.31 L158.61,571.74 L158.86,568.15 L159.12,564.53 L159.15,564.11 L159.38,560.88 L159.65,557.2 L159.93,553.51 L160.21,549.78 L160.42,547.02 L160.49,546.04 L160.79,542.27 L161.09,538.48 L161.39,534.66 L161.69,531.06 L162.02,526.97 L162.35,523.1 L162.68,519.2 L162.95,516.08 L163.02,515.29 L163.37,511.35 L163.73,507.4 L164.09,503.44 L164.22,501.98 L164.46,499.45 L164.84,495.45 L165.22,491.44 L165.49,488.66 L165.61,487.41 L166.02,483.37 L166.43,479.32 L166.76,476.04 L166.84,475.25 L167.27,471.17 L167.7,467.09 L168.03,464.06 L168.15,462.99 L168.6,458.88 L169.06,454.77 L169.3,452.66 L169.53,450.64 L170.01,446.52 L170.5,442.38 L170.57,441.78 L170.99,438.24 L171.5,434.1 L171.84,431.4 L172.02,429.95 L172.54,425.8 L173.08,421.64 L173.63,417.49 L174.18,413.33 L174.37,411.94 L174.75,409.18 L175.33,405.02 L175.64,402.8 L175.92,400.87 L176.51,396.72 L176.91,394.02 L177.12,392.58 L177.74,388.43 L178.18,385.59 L178.38,384.3 L179.02,380.16 L179.45,377.46 L179.67,376.04 L180.34,371.92 L180.72,369.64 L181.02,367.81 L181.71,363.71 L181.98,362.09 L182.41,359.62 L183.12,355.54 L183.25,354.8 L183.85,351.47 L184.52,347.76 L184.59,347.41 L185.34,343.36 L185.79,340.96 L186.1,339.33 L186.88,335.31 L187.06,334.38 L187.67,331.31 L188.33,328.01 L188.47,327.32 L189.28,323.34 L189.6,321.84 L190.11,319.39 L190.86,315.86 L190.95,315.45 L191.81,311.53 L192.13,310.06 L192.68,307.62 L193.4,304.43 L193.56,303.74 L194.46,299.88 L194.67,298.97 L195.37,296.03 L195.94,293.66 L196.29,292.21 L197.21,288.51 L198.19,284.63 L198.48,283.5 L199.15,280.88 L199.74,278.63 L200.14,277.15 L201.01,273.89 L201.14,273.44 L202.15,269.76 L202.28,269.28 L203.18,266.1 L203.55,264.79 L204.22,262.47 L204.82,260.41 L205.28,258.86 L206.09,256.16 L206.35,255.28 L207.36,252.0 L208.55,248.2 L209.67,244.71 L209.89,244.01 L210.8,241.24 L211.16,240.16 L211.96,237.8 L212.43,236.41 L213.13,234.39 L213.7,232.74 L214.31,231.01 L214.97,229.17 L215.51,227.66 L216.24,225.67 L216.73,224.33 L217.51,222.26 L217.97,221.04 L218.77,218.93 L219.22,217.79 L220.04,215.67 L220.48,214.56 L221.31,212.49 L221.77,211.36 L222.58,209.38 L223.07,208.2 L223.85,206.34 L224.39,205.07 L225.12,203.37 L225.72,201.97 L226.39,200.46 L227.08,198.9 L227.65,197.61 L228.45,195.87 L228.92,194.83 L229.83,192.86 L230.19,192.1 L231.24,189.9 L231.46,189.44 L232.66,186.96 L234.0,184.27 L235.27,181.77 L235.56,181.2 L236.53,179.31 L237.03,178.36 L237.8,176.91 L238.53,175.56 L239.07,174.56 L240.04,172.8 L240.34,172.25 L241.57,170.07 L242.88,167.78 L243.11,167.37 L244.15,165.61 L244.68,164.71 L245.41,163.48 L246.26,162.09 L246.68,161.39 L247.86,159.49 L249.22,157.34 L249.48,156.94 L250.49,155.37 L251.12,154.41 L251.76,153.44 L252.77,151.92 L253.03,151.54 L254.29,149.69 L255.56,147.86 L256.14,147.05 L256.83,146.07 L257.85,144.67 L258.1,144.31 L259.37,142.59 L259.57,142.31 L260.64,140.9 L261.32,140.0 L261.91,139.23 L263.09,137.72 L264.44,136.0 L264.87,135.47 L265.71,134.43 L266.67,133.26 L266.98,132.88 L268.25,131.36 L268.49,131.08 L269.52,129.87 L270.33,128.93 L270.79,128.41 L272.06,126.97 L273.32,125.55 L274.06,124.74 L274.59,124.16 L275.86,122.8 L277.13,121.46 L277.87,120.68 L278.4,120.14 L279.67,118.84 L280.94,117.57 L281.75,116.76 L282.2,116.31 L283.47,115.08 L283.72,114.85 L284.74,113.87 L285.7,112.97 L286.01,112.68 L287.28,111.51 L287.71,111.12 L288.55,110.36 L289.73,109.31 L291.08,108.12 L291.77,107.52 L292.35,107.02 L293.62,105.94 L294.89,104.88 L295.9,104.05 L296.16,103.84 L297.43,102.82 L298.0,102.36 L298.7,101.81 L299.97,100.82 L301.23,99.84 L302.24,99.08 L302.5,98.88 L303.77,97.94 L304.39,97.48 L305.04,97.01 L306.31,96.09 L306.56,95.91 L307.58,95.19 L308.74,94.38 L310.11,93.43 L310.95,92.87 L311.38,92.57 L312.65,91.73 L313.16,91.39 L313.92,90.9 L315.19,90.08 L316.46,89.27 L317.66,88.52 L318.99,87.7 L319.93,87.13 L320.26,86.93 L321.53,86.17 L322.22,85.76 L322.8,85.42 L324.07,84.69 L324.52,84.43 L325.34,83.97 L326.61,83.25 L327.87,82.55 L329.14,81.86 L330.41,81.18 L331.54,80.58 L332.95,79.85 L333.92,79.36 L334.22,79.2 L335.49,78.56 L336.31,78.15 L336.75,77.93 L338.02,77.31 L338.72,76.98 L339.29,76.7 L340.56,76.1 L341.14,75.83 L341.83,75.51 L343.1,74.92 L343.58,74.7 L344.37,74.34 L345.64,73.78 L346.03,73.6 L346.9,73.22 L348.17,72.67 L348.51,72.52 L349.44,72.12 L350.71,71.59 L350.99,71.47 L351.98,71.06 L353.25,70.54 L354.52,70.03 L355.78,69.53 L357.05,69.03 L358.32,68.54 L359.59,68.06 L360.86,67.58 L362.13,67.12 L363.4,66.65 L364.66,66.2 L365.93,65.75 L366.24,65.64 L367.2,65.31 L368.47,64.87 L368.83,64.75 L369.74,64.44 L371.01,64.02 L371.44,63.88 L372.28,63.6 L373.54,63.19 L374.06,63.03 L374.81,62.79 L376.08,62.39 L376.7,62.2 L377.35,61.99 L378.62,61.61 L379.35,61.39 L379.89,61.22 L381.16,60.85 L382.01,60.6 L382.43,60.48 L383.69,60.11 L384.69,59.83 L386.23,59.39 L387.38,59.07 L388.77,58.69 L390.04,58.35 L391.31,58.02 L392.57,57.69 L393.84,57.36 L395.11,57.04 L395.53,56.93 L396.38,56.72 L397.65,56.41 L398.27,56.25 L398.92,56.1 L400.19,55.79 L401.02,55.59 L401.45,55.49 L402.72,55.2 L403.79,54.95 L405.26,54.62 L406.53,54.33 L407.8,54.05 L409.07,53.78 L410.33,53.5 L411.6,53.24 L412.15,53.12 L412.87,52.97 L414.14,52.71 L414.96,52.54 L415.41,52.45 L416.68,52.2 L417.79,51.98 L419.21,51.7 L420.48,51.46 L421.75,51.22 L423.02,50.98 L423.46,50.9 L424.29,50.75 L425.56,50.52 L426.32,50.39 L426.83,50.3 L428.1,50.07 L429.18,49.88 L430.63,49.63 L431.9,49.42 L433.17,49.21 L434.44,49.0 L434.94,48.92 L435.71,48.79 L436.98,48.59 L437.83,48.46 L438.24,48.39 L439.51,48.2 L440.73,48.01 L442.05,47.81 L443.32,47.62 L444.59,47.43 L445.86,47.25 L446.55,47.15 L447.12,47.07 L448.39,46.89 L449.48,46.74 L450.93,46.54 L452.2,46.37 L453.47,46.2 L454.74,46.03 L455.35,45.95 L456.0,45.87 L457.27,45.71 L458.3,45.58 L459.81,45.39 L461.08,45.23 L462.35,45.08 L463.62,44.93 L464.22,44.86 L464.88,44.78 L466.15,44.63 L467.18,44.52 L468.69,44.35 L469.96,44.21 L471.23,44.07 L472.5,43.93 L473.14,43.86 L473.77,43.79 L475.03,43.66 L476.12,43.55 L477.57,43.4 L478.84,43.27 L480.11,43.15 L481.38,43.02 L482.11,42.95 L482.65,42.9 L483.91,42.78 L485.11,42.67 L486.45,42.54 L487.72,42.43 L488.11,42.39 L488.99,42.31 L490.26,42.2 L491.12,42.12 L491.53,42.09 L492.79,41.98 L494.06,41.87 L495.33,41.77 L496.6,41.66 L497.15,41.62 L497.87,41.56 L499.14,41.46 L500.17,41.37 L501.67,41.26 L502.94,41.16 L504.21,41.06 L505.48,40.97 L506.22,40.91 L506.75,40.87 L508.02,40.78 L509.24,40.69 L510.56,40.6 L511.82,40.51 L512.27,40.48 L513.09,40.43 L514.36,40.34 L515.3,40.28 L516.9,40.17 L518.17,40.09 L519.44,40.01 L520.7,39.93 L521.37,39.89 L521.97,39.85 L523.24,39.77 L524.4,39.7 L525.78,39.62 L527.05,39.54 L528.32,39.47 L529.58,39.4 L530.47,39.35 L532.12,39.26 L533.39,39.19 L534.66,39.12 L535.93,39.05 L536.53,39.02 L537.2,38.99 L538.46,38.92 L539.57,38.87 L541.0,38.79 L542.27,38.73 L543.54,38.67 L544.81,38.61 L545.63,38.57 L546.08,38.55 L547.34,38.49 L548.61,38.43 L549.88,38.37 L551.15,38.32 L551.68,38.29 L552.42,38.26 L553.69,38.21 L554.71,38.16 L556.23,38.1 L557.49,38.05 L558.76,38.0 L560.03,37.95 L560.75,37.92 L561.3,37.9 L562.57,37.85 L563.77,37.8 L565.11,37.75 L566.37,37.7 L566.78,37.69 L567.64,37.66 L568.91,37.61 L569.79,37.58 L571.45,37.52 L572.72,37.48 L573.99,37.43 L575.25,37.39 L575.79,37.37 L576.52,37.35 L577.79,37.31 L578.79,37.28 L580.33,37.23 L581.6,37.19 L582.87,37.15 L584.13,37.11 L584.76,37.09 L585.4,37.07 L586.67,37.04 L587.74,37.01 L589.21,36.96 L590.48,36.93 L591.75,36.89 L593.02,36.86 L593.68,36.84 L594.28,36.83 L595.55,36.79 L596.64,36.77 L598.09,36.73 L599.36,36.7 L600.63,36.67 L601.9,36.64 L602.55,36.62 L603.16,36.61 L604.43,36.58 L605.49,36.55 L606.97,36.52 L608.24,36.49 L609.51,36.46 L610.78,36.43 L611.35,36.42 L612.04,36.41 L613.31,36.38 L614.26,36.36 L615.85,36.33 L617.12,36.3 L618.39,36.28 L619.66,36.25 L620.07,36.25 L620.92,36.23 L622.19,36.21 L622.96,36.19 L623.46,36.18 L624.73,36.16 L625.85,36.14 L627.27,36.12 L628.54,36.09 L629.8,36.07 L631.07,36.05 L631.58,36.04 L632.34,36.03 L633.61,36.01 L634.44,36.0 L634.88,35.99 L636.15,35.97 L637.28,35.95 L638.69,35.93 L639.95,35.91 L641.22,35.89 L642.49,35.88 L642.94,35.87 L643.76,35.86 L645.03,35.84 L645.75,35.83 L646.3,35.82 L647.57,35.81 L648.55,35.79 L650.1,35.77 L651.34,35.76 L652.64,35.74 L653.91,35.73 L655.18,35.71 L656.45,35.7 L656.88,35.69 L657.71,35.68 L658.98,35.67 L659.63,35.66 L660.25,35.65 L661.52,35.64 L662.37,35.63 L662.79,35.62 L664.06,35.61 L665.1,35.6 L666.59,35.58 L667.82,35.57 L669.13,35.56 L670.4,35.55 L671.67,35.53 L672.94,35.52 L674.21,35.51 L675.47,35.5 L675.89,35.5 L676.74,35.49 L678.01,35.48 L678.55,35.47 L679.28,35.47 L680.55,35.46 L681.2,35.45 L681.82,35.45 L683.09,35.44 L683.84,35.43 L684.36,35.43 L685.62,35.42 L686.46,35.41 L686.89,35.41 L688.16,35.4 L689.07,35.39 L690.7,35.38 L691.66,35.37 L693.24,35.36 L694.24,35.35 L695.77,35.34 L696.8,35.34 L698.31,35.33 L699.35,35.32 L700.85,35.31 L701.89,35.31 L703.38,35.3 L704.4,35.29 L705.92,35.28 L706.91,35.28 L708.46,35.27 L709.39,35.26 L711.0,35.25 L711.87,35.25 L713.53,35.24 L714.32,35.24 L714.8,35.24 L716.07,35.23 L716.76,35.23 L717.34,35.22 L718.61,35.22 L719.18,35.21 L719.88,35.21 L721.15,35.21 L721.59,35.2 L722.41,35.2 L723.68,35.2 L724.95,35.19 L726.22,35.18 L727.49,35.18 L728.71,35.17 L730.03,35.17 L731.05,35.17 L732.56,35.16 L733.38,35.16 L733.83,35.16 L735.1,35.15 L735.68,35.15 L736.37,35.15 L737.64,35.14 L738.91,35.14 L740.17,35.14 L741.44,35.13 L742.5,35.13 L743.98,35.12 L744.74,35.12 L745.25,35.12 L746.52,35.12 L746.95,35.12 L747.79,35.11 L749.05,35.11 L750.32,35.11 L751.34,35.1 L752.86,35.1 L753.51,35.1 L754.13,35.1 L755.4,35.09 L756.67,35.09 L757.79,35.09 L759.2,35.09 L759.9,35.08 L760.47,35.08 L761.74,35.08 L763.01,35.08 L764.07,35.08 L765.55,35.07 L766.13,35.07 L766.82,35.07 L768.08,35.07 L769.35,35.07 L770.19,35.06 L770.62,35.06 L771.89,35.06 L773.16,35.06 L774.18,35.06 L775.7,35.05 L776.15,35.05 L776.96,35.05 L778.1,35.05 L779.5,35.05 L780.03,35.05 L780.77,35.05 L781.94,35.05 L783.31,35.04 L783.84,35.04 L784.58,35.04 L785.71,35.04 L787.11,35.04 L787.57,35.04 L788.38,35.04 L789.41,35.04 L790.92,35.03 L792.19,35.03 L793.03,35.03 L793.46,35.03 L794.72,35.03 L795.99,35.03 L796.58,35.03 L797.26,35.03 L798.33,35.03 L799.8,35.03 L801.07,35.03 L801.76,35.02 L802.34,35.02 L803.46,35.02 L804.87,35.02 L806.14,35.02 L806.78,35.02 L807.41,35.02 L808.42,35.02 L809.95,35.02 L811.22,35.02 L811.64,35.02 L812.49,35.02 L813.22,35.02 L813.75,35.02 L814.79,35.02 L816.29,35.01 L817.56,35.01 L818.83,35.01 L819.37,35.01 L820.1,35.01 L820.87,35.01 L821.37,35.01 L822.34,35.01 L823.8,35.01 L825.17,35.01 L826.44,35.01 L827.71,35.01 L828.98,35.01 L829.45,35.01 L830.25,35.01 L830.82,35.01 L831.51,35.01 L832.18,35.01 L832.78,35.01 L833.51,35.01 L834.05,35.01 L834.83,35.01 L835.32,35.01 L836.13,35.01 L836.59,35.01 L837.42,35.01 L837.86,35.01 L838.68,35.01 L839.13,35.01 L839.93,35.01 L840.39,35.0 L841.17,35.0 L841.66,35.0 L842.39,35.0 L842.93,35.0 L843.59,35.0 L844.2,35.0 L844.77,35.0 L845.47,35.0 L845.94,35.0 L846.74,35.0 L848.01,35.0 L849.28,35.0 L850.46,35.0 L851.55,35.0 L852.62,35.0 L853.08,35.0 L853.68,35.0 L854.35,35.0 L855.62,35.0 L856.76,35.0 L857.76,35.0 L858.75,35.0 L859.42,35.0 L860.67,35.0 L861.61,35.0 L862.53,35.0 L863.23,35.0 L864.34,35.0 L865.22,35.0 L865.77,35.0 L866.95,35.0 L867.79,35.0 L868.3,35.0 L869.43,35.0 L870.23,35.0 L870.84,35.0 L871.8,35.0 L872.56,35.0 L873.31,35.0 L874.05,35.0 L874.65,35.0 L875.49,35.0 L875.92,35.0 L876.88,35.0 L877.56,35.0 L878.23,35.0 L878.88,35.0 L879.52,35.0 L880.16,35.0 L880.78,35.0 L881.39,35.0 L881.98,35.0 L882.57,35.0 L883.15,35.0 L883.72,35.0 L884.27,35.0 L884.8,35.0 L885.36,35.0 L885.88,35.0 L886.4,35.0 L886.91,35.0 L887.33,35.0 L887.89,35.0 L888.37,35.0 L888.84,35.0 L889.3,35.0 L889.75,35.0 L890.2,35.0 L890.63,35.0 L891.06,35.0 L891.47,35.0 L891.88,35.0 L892.29,35.0 L893.06,35.0 L893.68,35.0 L894.17,35.0 L894.88,35.0 L895.55,35.0 L896.19,35.0 L896.81,35.0 L897.41,35.0 L897.97,35.0 L898.52,35.0 L899.04,35.0 L899.53,35.0 L900.01,35.0 L900.46,35.0 L900.9,35.0 L901.31,35.0 L901.71,35.0 L902.27,35.0 L902.79,35.0 L903.27,35.0 L903.72,35.0 L904.14,35.0 L904.65,35.0 L905.09,35.0 L905.53,35.0 L905.99,35.0 L906.4,35.0 L906.82,35.0 L907.23,35.0 L907.64,35.0 L908.05,35.0 L908.46,35.0 L908.9,35.0" stroke="#E2B97F" />
<path d="M149.0,794.25 L149.0,793.84 L149.01,793.42 L149.01,793.0 L149.02,792.57 L149.02,792.1 L149.03,791.7 L149.03,791.22 L149.04,790.79 L149.05,790.3 L149.05,789.75 L149.06,789.3 L149.07,788.8 L149.08,788.27 L149.09,787.68 L149.09,787.26 L149.1,786.82 L149.11,786.36 L149.12,785.87 L149.13,785.35 L149.14,784.81 L149.15,784.24 L149.16,783.64 L149.17,783.01 L149.18,782.34 L149.2,781.65 L149.21,780.92 L149.23,780.15 L149.24,779.75 L149.25,779.34 L149.26,778.93 L149.27,778.5 L149.28,778.06 L149.29,777.62 L149.3,777.16 L149.31,776.69 L149.32,776.21 L149.33,775.72 L149.34,775.22 L149.36,774.71 L149.37,774.19 L149.38,773.65 L149.4,773.1 L149.41,772.54 L149.43,771.97 L149.44,771.39 L149.46,770.79 L149.47,770.18 L149.49,769.56 L149.51,768.93 L149.53,768.28 L149.54,767.62 L149.56,766.94 L149.58,766.25 L149.6,765.55 L149.63,764.83 L149.65,764.09 L149.67,763.34 L149.69,762.58 L149.72,761.8 L149.74,761.01 L149.77,760.2 L149.79,759.38 L149.82,758.53 L149.85,757.68 L149.88,756.8 L149.91,755.91 L149.94,755.01 L149.97,754.08 L150.0,753.14 L150.03,752.18 L150.07,751.21 L150.1,750.21 L150.14,749.2 L150.18,748.17 L150.22,747.12 L150.26,746.06 L150.3,744.97 L150.34,743.87 L150.38,742.74 L150.43,741.6 L150.48,740.44 L150.52,739.26 L150.57,738.06 L150.62,736.83 L150.67,735.59 L150.73,734.33 L150.78,733.05 L150.84,731.75 L150.9,730.42 L150.96,729.08 L151.02,727.71 L151.08,726.33 L151.15,724.92 L151.21,723.49 L151.28,722.04 L151.35,720.56 L151.43,719.07 L151.5,717.55 L151.54,716.82 L151.58,716.01 L151.66,714.45 L151.74,712.86 L151.82,711.26 L151.91,709.63 L151.99,707.98 L152.08,706.3 L152.18,704.6 L152.27,702.88 L152.37,701.14 L152.47,699.37 L152.57,697.58 L152.68,695.77 L152.79,693.93 L152.9,692.07 L153.01,690.18 L153.13,688.27 L153.25,686.34 L153.37,684.39 L153.5,682.41 L153.63,680.4 L153.76,678.38 L153.89,676.33 L154.03,674.25 L154.07,673.64 L154.18,672.15 L154.32,670.03 L154.47,667.88 L154.63,665.71 L154.78,663.52 L154.95,661.3 L155.11,659.06 L155.28,656.8 L155.34,655.97 L155.45,654.51 L155.63,652.2 L155.81,649.86 L156.0,647.5 L156.19,645.12 L156.39,642.72 L156.59,640.29 L156.79,637.84 L157.0,635.36 L157.22,632.86 L157.44,630.34 L157.66,627.8 L157.88,625.34 L158.12,622.65 L158.37,620.04 L158.61,617.4 L158.86,614.75 L159.12,612.07 L159.38,609.38 L159.65,606.66 L159.93,603.92 L160.21,601.15 L160.42,599.1 L160.49,598.37 L160.79,595.57 L161.09,592.75 L161.39,589.9 L161.69,587.21 L162.02,584.15 L162.35,581.25 L162.68,578.33 L162.95,575.99 L163.02,575.39 L163.37,572.43 L163.73,569.45 L164.09,566.45 L164.22,565.35 L164.46,563.44 L164.84,560.41 L165.22,557.36 L165.49,555.24 L165.61,554.29 L166.02,551.21 L166.43,548.11 L166.76,545.6 L166.84,544.99 L167.27,541.86 L167.7,538.71 L168.03,536.38 L168.15,535.55 L168.6,532.37 L169.06,529.18 L169.3,527.54 L169.53,525.97 L170.01,522.75 L170.5,519.52 L170.57,519.05 L170.99,516.27 L171.5,513.02 L171.84,510.89 L172.02,509.74 L172.54,506.46 L173.08,503.17 L173.63,499.86 L174.18,496.54 L174.37,495.43 L174.75,493.22 L175.33,489.88 L175.64,488.09 L175.92,486.53 L176.51,483.18 L176.91,480.99 L177.12,479.81 L177.74,476.44 L178.18,474.12 L178.38,473.06 L179.02,469.67 L179.45,467.45 L179.67,466.28 L180.34,462.88 L180.72,460.98 L181.02,459.47 L181.71,456.06 L181.98,454.7 L182.41,452.64 L183.12,449.21 L183.25,448.59 L183.85,445.78 L184.52,442.65 L185.34,438.92 L185.79,436.87 L186.1,435.48 L186.88,432.04 L187.06,431.24 L187.67,428.59 L188.33,425.74 L188.47,425.15 L189.28,421.7 L189.6,420.39 L190.11,418.25 L190.86,415.16 L190.95,414.8 L191.81,411.35 L192.13,410.06 L192.68,407.91 L193.4,405.07 L193.56,404.46 L194.46,401.01 L194.67,400.2 L195.37,397.57 L195.94,395.43 L196.29,394.13 L197.21,390.78 L198.19,387.25 L198.48,386.22 L199.15,383.82 L199.74,381.75 L200.14,380.39 L201.01,377.38 L201.14,376.96 L202.15,373.55 L202.28,373.1 L203.18,370.13 L203.55,368.9 L204.22,366.72 L204.82,364.79 L205.28,363.32 L206.09,360.76 L206.35,359.92 L207.36,356.8 L208.55,353.16 L209.67,349.78 L209.89,349.11 L210.8,346.42 L211.16,345.37 L211.96,343.06 L212.43,341.7 L213.13,339.71 L213.7,338.09 L214.31,336.38 L214.97,334.55 L215.51,333.05 L216.24,331.07 L216.73,329.73 L217.51,327.65 L217.97,326.42 L218.77,324.29 L219.22,323.13 L220.04,320.98 L220.48,319.84 L221.31,317.73 L221.77,316.57 L222.58,314.53 L223.07,313.31 L223.85,311.39 L224.39,310.06 L225.12,308.29 L225.72,306.83 L226.39,305.25 L227.08,303.61 L227.65,302.25 L228.45,300.4 L228.92,299.3 L229.83,297.21 L230.19,296.39 L231.24,294.03 L231.46,293.53 L232.66,290.86 L234.0,287.94 L235.27,285.21 L235.56,284.58 L236.53,282.51 L237.03,281.46 L237.8,279.86 L238.53,278.36 L239.07,277.24 L240.04,275.28 L240.34,274.66 L241.57,272.21 L242.88,269.62 L243.11,269.16 L244.15,267.15 L244.68,266.12 L245.41,264.71 L246.26,263.11 L246.68,262.31 L247.86,260.11 L249.22,257.6 L249.48,257.13 L250.49,255.29 L251.12,254.17 L251.76,253.02 L252.77,251.22 L253.03,250.77 L254.29,248.56 L254.44,248.3 L255.56,246.37 L256.14,245.39 L256.83,244.21 L257.85,242.51 L258.1,242.08 L259.37,239.98 L259.57,239.64 L260.64,237.9 L261.32,236.8 L261.91,235.85 L263.09,233.97 L264.44,231.83 L264.87,231.17 L265.71,229.86 L266.67,228.38 L266.98,227.91 L268.25,225.98 L268.49,225.62 L269.52,224.08 L270.33,222.87 L270.79,222.2 L272.06,220.35 L273.32,218.51 L274.06,217.45 L274.59,216.7 L275.86,214.91 L277.13,213.14 L277.87,212.12 L278.4,211.39 L279.67,209.66 L280.94,207.96 L281.75,206.87 L282.2,206.27 L283.47,204.6 L283.72,204.28 L284.74,202.95 L285.7,201.71 L286.01,201.32 L287.28,199.71 L287.71,199.17 L288.55,198.11 L289.73,196.64 L291.08,194.98 L291.77,194.14 L292.35,193.44 L293.62,191.91 L293.83,191.67 L294.89,190.41 L295.9,189.21 L296.16,188.92 L297.43,187.44 L298.0,186.78 L298.7,185.98 L299.97,184.54 L301.23,183.11 L302.24,181.99 L302.5,181.7 L303.77,180.31 L304.39,179.63 L305.04,178.93 L306.31,177.56 L306.56,177.29 L307.58,176.21 L308.74,174.98 L310.11,173.55 L310.95,172.69 L311.38,172.24 L312.65,170.94 L313.16,170.42 L313.92,169.66 L315.19,168.39 L315.4,168.18 L316.46,167.13 L317.66,165.96 L318.99,164.66 L319.93,163.76 L320.26,163.44 L321.53,162.23 L322.22,161.59 L322.8,161.04 L324.07,159.86 L324.52,159.44 L325.34,158.69 L326.61,157.53 L326.85,157.31 L327.87,156.39 L329.14,155.25 L330.41,154.13 L331.54,153.14 L332.95,151.92 L333.92,151.08 L334.22,150.83 L335.49,149.75 L336.31,149.05 L336.75,148.68 L338.02,147.62 L338.72,147.05 L339.29,146.57 L340.56,145.54 L341.14,145.07 L341.83,144.51 L343.1,143.49 L343.58,143.11 L344.37,142.48 L345.64,141.49 L346.03,141.17 L346.9,140.5 L348.17,139.52 L348.51,139.26 L349.44,138.55 L350.71,137.59 L350.99,137.38 L351.98,136.64 L353.25,135.7 L353.5,135.51 L354.52,134.76 L355.78,133.84 L356.01,133.67 L357.05,132.92 L358.32,132.02 L359.59,131.12 L360.86,130.23 L361.1,130.06 L362.13,129.35 L363.4,128.47 L363.66,128.29 L364.66,127.61 L365.93,126.75 L366.24,126.55 L367.2,125.9 L368.47,125.06 L368.83,124.82 L369.74,124.23 L371.01,123.4 L371.44,123.12 L372.28,122.58 L373.54,121.77 L374.06,121.44 L374.81,120.97 L376.08,120.17 L376.7,119.79 L377.35,119.38 L378.62,118.6 L379.35,118.16 L379.89,117.83 L381.16,117.06 L382.01,116.55 L382.43,116.3 L383.69,115.55 L384.69,114.96 L384.96,114.8 L386.23,114.06 L387.38,113.4 L388.77,112.6 L390.04,111.88 L391.31,111.17 L392.57,110.46 L393.84,109.76 L395.11,109.07 L395.53,108.84 L396.38,108.38 L397.65,107.69 L398.27,107.36 L398.92,107.02 L400.19,106.35 L401.02,105.91 L401.45,105.68 L402.72,105.03 L403.79,104.48 L405.26,103.73 L406.53,103.09 L407.8,102.45 L409.07,101.82 L409.35,101.68 L410.33,101.2 L411.6,100.58 L412.15,100.31 L412.87,99.96 L414.14,99.36 L414.96,98.96 L415.41,98.75 L416.68,98.16 L417.79,97.64 L419.21,96.98 L420.48,96.4 L421.75,95.82 L423.02,95.25 L423.46,95.05 L424.29,94.68 L425.56,94.12 L426.32,93.79 L426.83,93.56 L428.1,93.01 L429.18,92.54 L430.63,91.92 L431.9,91.38 L433.17,90.85 L434.44,90.32 L434.94,90.12 L435.71,89.8 L436.98,89.28 L437.83,88.93 L438.24,88.76 L439.51,88.25 L440.73,87.77 L442.05,87.24 L443.32,86.75 L443.64,86.62 L444.59,86.25 L445.86,85.77 L446.55,85.5 L447.12,85.28 L448.39,84.8 L449.48,84.39 L450.93,83.85 L452.2,83.38 L453.47,82.92 L454.74,82.46 L455.35,82.24 L456.0,82.0 L457.27,81.55 L458.3,81.19 L459.81,80.66 L461.08,80.21 L462.35,79.78 L463.62,79.34 L464.22,79.14 L464.88,78.91 L466.15,78.49 L467.18,78.14 L468.69,77.65 L469.96,77.23 L471.23,76.82 L472.5,76.41 L473.14,76.21 L473.77,76.01 L475.03,75.61 L476.12,75.26 L477.57,74.81 L478.84,74.42 L480.11,74.03 L481.38,73.65 L482.11,73.43 L482.65,73.27 L483.91,72.89 L485.11,72.54 L486.45,72.14 L487.72,71.78 L488.11,71.66 L488.99,71.41 L490.26,71.05 L491.12,70.8 L491.53,70.69 L492.79,70.33 L494.06,69.98 L495.33,69.63 L496.6,69.28 L497.15,69.13 L497.87,68.94 L499.14,68.6 L500.17,68.32 L501.67,67.92 L502.94,67.59 L504.21,67.26 L505.48,66.94 L506.22,66.75 L506.75,66.61 L508.02,66.29 L509.24,65.98 L510.56,65.66 L511.82,65.34 L512.27,65.23 L513.09,65.03 L514.36,64.72 L515.3,64.5 L515.63,64.42 L516.9,64.12 L518.17,63.82 L519.44,63.52 L520.7,63.23 L521.37,63.07 L521.97,62.93 L523.24,62.64 L524.4,62.38 L525.78,62.07 L527.05,61.79 L527.43,61.7 L528.32,61.51 L529.58,61.23 L530.47,61.04 L530.85,60.96 L532.12,60.68 L533.39,60.41 L534.66,60.14 L535.93,59.88 L536.53,59.75 L537.2,59.62 L538.46,59.35 L539.57,59.13 L541.0,58.84 L542.27,58.58 L543.54,58.33 L544.81,58.08 L545.63,57.92 L546.08,57.83 L547.34,57.59 L548.61,57.34 L549.88,57.1 L551.15,56.86 L551.68,56.76 L552.42,56.63 L553.69,56.39 L554.71,56.2 L556.23,55.93 L557.49,55.7 L558.76,55.47 L560.03,55.25 L560.75,55.12 L561.3,55.02 L562.57,54.8 L563.77,54.59 L565.11,54.36 L566.37,54.15 L566.78,54.08 L567.64,53.94 L568.91,53.72 L569.79,53.58 L570.18,53.51 L571.45,53.31 L572.72,53.1 L573.99,52.9 L575.25,52.69 L575.79,52.61 L576.52,52.49 L577.79,52.29 L578.79,52.14 L580.33,51.9 L581.6,51.71 L582.87,51.52 L584.13,51.33 L584.76,51.23 L585.4,51.14 L586.67,50.95 L587.74,50.8 L589.21,50.58 L590.48,50.4 L591.75,50.22 L593.02,50.04 L593.68,49.95 L594.28,49.87 L595.55,49.69 L596.64,49.54 L598.09,49.35 L599.36,49.18 L600.63,49.01 L601.9,48.84 L602.55,48.75 L603.16,48.67 L604.43,48.51 L605.49,48.37 L606.97,48.18 L608.24,48.03 L609.51,47.87 L610.78,47.71 L611.35,47.64 L612.04,47.55 L613.31,47.4 L614.26,47.29 L615.85,47.1 L617.12,46.95 L618.39,46.8 L619.66,46.65 L620.07,46.6 L620.92,46.51 L622.19,46.36 L622.96,46.28 L623.46,46.22 L624.73,46.08 L625.85,45.96 L627.27,45.8 L628.54,45.66 L629.8,45.53 L631.07,45.39 L631.58,45.34 L632.34,45.26 L633.61,45.13 L634.44,45.04 L634.88,44.99 L636.15,44.86 L637.28,44.75 L638.69,44.61 L639.95,44.48 L641.22,44.36 L642.49,44.23 L642.94,44.19 L643.76,44.11 L645.03,43.99 L645.75,43.92 L646.3,43.87 L647.57,43.75 L648.55,43.66 L650.1,43.52 L651.34,43.41 L652.64,43.29 L653.91,43.18 L655.18,43.06 L656.45,42.95 L656.88,42.92 L657.71,42.84 L658.98,42.74 L659.63,42.68 L660.25,42.63 L661.52,42.52 L662.37,42.45 L662.79,42.42 L664.06,42.31 L665.1,42.23 L666.59,42.11 L667.82,42.01 L669.13,41.91 L670.4,41.81 L671.67,41.71 L672.94,41.61 L674.21,41.52 L675.47,41.42 L675.89,41.39 L676.74,41.33 L678.01,41.23 L678.55,41.19 L679.28,41.14 L680.55,41.05 L681.2,41.0 L681.82,40.96 L683.09,40.87 L683.84,40.82 L684.36,40.78 L685.62,40.7 L686.46,40.64 L686.89,40.61 L688.16,40.52 L689.07,40.46 L690.7,40.36 L691.66,40.29 L693.24,40.19 L694.24,40.13 L695.77,40.03 L696.8,39.97 L698.31,39.87 L699.35,39.81 L700.85,39.72 L701.89,39.66 L703.38,39.57 L704.4,39.51 L705.92,39.42 L706.91,39.37 L708.46,39.28 L709.39,39.23 L711.0,39.14 L711.87,39.09 L712.26,39.07 L713.53,39.0 L714.32,38.96 L714.8,38.94 L716.07,38.87 L716.76,38.83 L717.34,38.8 L718.61,38.74 L719.18,38.71 L719.88,38.67 L721.15,38.61 L721.59,38.59 L722.41,38.55 L723.68,38.49 L724.95,38.42 L726.22,38.36 L727.49,38.3 L728.71,38.25 L730.03,38.19 L731.05,38.14 L732.56,38.07 L733.38,38.04 L733.83,38.02 L735.1,37.96 L735.68,37.93 L736.37,37.91 L737.64,37.85 L738.91,37.8 L740.17,37.74 L741.44,37.69 L742.5,37.65 L743.98,37.59 L744.74,37.56 L745.25,37.54 L746.52,37.49 L746.95,37.47 L747.79,37.44 L749.05,37.39 L750.32,37.35 L751.34,37.31 L752.86,37.25 L753.51,37.23 L754.13,37.21 L755.4,37.16 L756.67,37.12 L757.79,37.08 L759.2,37.03 L759.9,37.01 L760.47,36.99 L761.74,36.95 L763.01,36.91 L764.07,36.87 L765.55,36.82 L766.13,36.81 L766.82,36.78 L768.08,36.75 L769.35,36.71 L770.19,36.68 L770.62,36.67 L771.89,36.63 L773.16,36.59 L774.18,36.57 L775.7,36.52 L776.15,36.51 L776.96,36.49 L778.1,36.46 L779.5,36.42 L780.03,36.4 L780.77,36.38 L781.94,36.35 L783.31,36.32 L783.84,36.31 L784.58,36.29 L785.71,36.26 L787.11,36.22 L787.57,36.21 L788.38,36.19 L789.41,36.17 L790.92,36.13 L792.19,36.1 L793.03,36.09 L793.46,36.08 L794.72,36.05 L795.99,36.02 L796.58,36.01 L797.26,35.99 L798.33,35.97 L799.8,35.94 L801.07,35.91 L801.76,35.9 L802.34,35.89 L803.46,35.87 L804.87,35.84 L806.14,35.82 L806.78,35.8 L807.41,35.79 L808.42,35.77 L809.95,35.75 L811.22,35.72 L811.64,35.72 L812.49,35.7 L813.22,35.69 L813.75,35.68 L814.79,35.66 L816.29,35.64 L817.56,35.62 L818.83,35.6 L819.37,35.59 L820.1,35.58 L820.87,35.57 L821.37,35.56 L822.34,35.55 L823.8,35.52 L825.17,35.5 L826.44,35.49 L827.71,35.47 L828.98,35.45 L829.45,35.45 L830.25,35.44 L830.82,35.43 L831.51,35.42 L832.18,35.41 L832.78,35.41 L833.51,35.4 L834.05,35.39 L834.83,35.38 L835.32,35.37 L836.13,35.37 L836.59,35.36 L837.42,35.35 L837.86,35.35 L838.68,35.34 L839.13,35.33 L839.93,35.32 L840.39,35.32 L841.17,35.31 L841.66,35.31 L842.39,35.3 L842.93,35.29 L843.59,35.29 L844.2,35.28 L844.77,35.27 L845.47,35.27 L845.94,35.26 L846.74,35.26 L848.01,35.24 L849.28,35.23 L850.46,35.22 L851.55,35.21 L852.62,35.2 L853.08,35.2 L853.68,35.2 L854.35,35.19 L855.62,35.18 L856.76,35.17 L857.76,35.17 L858.16,35.16 L858.75,35.16 L859.42,35.15 L860.67,35.15 L861.61,35.14 L862.53,35.13 L863.23,35.13 L864.34,35.12 L865.22,35.12 L865.77,35.11 L866.95,35.11 L867.79,35.1 L868.3,35.1 L869.43,35.09 L870.23,35.09 L870.84,35.09 L871.8,35.08 L872.56,35.08 L873.31,35.07 L874.05,35.07 L874.65,35.07 L875.49,35.07 L875.92,35.06 L876.88,35.06 L877.56,35.06 L878.23,35.05 L878.88,35.05 L879.52,35.05 L880.16,35.05 L880.78,35.05 L881.39,35.04 L881.98,35.04 L882.57,35.04 L883.15,35.04 L883.72,35.04 L884.27,35.03 L884.8,35.03 L885.36,35.03 L885.88,35.03 L886.4,35.03 L886.91,35.03 L887.33,35.03 L887.89,35.02 L888.37,35.02 L888.84,35.02 L889.3,35.02 L889.75,35.02 L890.2,35.02 L890.63,35.02 L891.06,35.02 L891.47,35.02 L891.88,35.02 L892.29,35.02 L893.06,35.01 L893.68,35.01 L894.17,35.01 L894.88,35.01 L895.55,35.01 L896.19,35.01 L896.81,35.01 L897.41,35.01 L897.97,35.01 L898.52,35.01 L899.04,35.01 L899.53,35.0 L900.01,35.0 L900.46,35.0 L900.9,35.0 L901.31,35.0 L901.71,35.0 L902.27,35.0 L902.79,35.0 L903.27,35.0 L903.72,35.0 L904.14,35.0 L904.65,35.0 L905.09,35.0 L905.53,35.0 L905.99,35.0 L906.4,35.0 L906.82,35.0 L907.23,35.0 L907.64,35.0 L908.05,35.0 L908.46,35.0 L908.9,35.0" stroke="#A6A6A6" />
</g>
<rect x="118.7" y="4.6" width="820.50" height="820.10" fill="none" stroke="#000" stroke-width="1.8" stroke-linejoin="round"/>
<g stroke="#000" stroke-width="1.9"><line x1="149.00" y1="824.7" x2="149.00" y2="842.6"/><line x1="300.98" y1="824.7" x2="300.98" y2="842.6"/><line x1="452.96" y1="824.7" x2="452.96" y2="842.6"/><line x1="604.94" y1="824.7" x2="604.94" y2="842.6"/><line x1="756.92" y1="824.7" x2="756.92" y2="842.6"/><line x1="908.90" y1="824.7" x2="908.90" y2="842.6"/><line x1="118.7" y1="794.25" x2="100.5" y2="794.25"/><line x1="118.7" y1="642.40" x2="100.5" y2="642.40"/><line x1="118.7" y1="490.55" x2="100.5" y2="490.55"/><line x1="118.7" y1="338.70" x2="100.5" y2="338.70"/><line x1="118.7" y1="186.85" x2="100.5" y2="186.85"/><line x1="118.7" y1="35.00" x2="100.5" y2="35.00"/></g>
<g font-family="Liberation Sans" font-size="29.9" fill="#000"><g transform="translate(149.00,886.6) scale(0.953,1)"><text x="0" y="0" text-anchor="middle">0.0</text></g><g transform="translate(300.98,886.6) scale(0.953,1)"><text x="0" y="0" text-anchor="middle">0.2</text></g><g transform="translate(452.96,886.6) scale(0.953,1)"><text x="0" y="0" text-anchor="middle">0.4</text></g><g transform="translate(604.94,886.6) scale(0.953,1)"><text x="0" y="0" text-anchor="middle">0.6</text></g><g transform="translate(756.92,886.6) scale(0.953,1)"><text x="0" y="0" text-anchor="middle">0.8</text></g><g transform="translate(908.90,886.6) scale(0.953,1)"><path d="M763,0 L583,0 L583,1147 Q518,1085 415,1024.5 Q312,964 223,931 L223,1105 Q374,1176 486.5,1276.5 Q599,1377 649,1466 L763,1466 Z" transform="translate(-20.782,0) scale(0.014600,-0.013870)"/><text x="-4.153" y="0">.0</text></g><g transform="translate(77.1,794.25) rotate(-90) scale(0.953,1)"><text x="0" y="0" text-anchor="middle">0.0</text></g><g transform="translate(77.1,642.40) rotate(-90) scale(0.953,1)"><text x="0" y="0" text-anchor="middle">0.2</text></g><g transform="translate(77.1,490.55) rotate(-90) scale(0.953,1)"><text x="0" y="0" text-anchor="middle">0.4</text></g><g transform="translate(77.1,338.70) rotate(-90) scale(0.953,1)"><text x="0" y="0" text-anchor="middle">0.6</text></g><g transform="translate(77.1,186.85) rotate(-90) scale(0.953,1)"><text x="0" y="0" text-anchor="middle">0.8</text></g><g transform="translate(77.1,35.00) rotate(-90) scale(0.953,1)"><path d="M763,0 L583,0 L583,1147 Q518,1085 415,1024.5 Q312,964 223,931 L223,1105 Q374,1176 486.5,1276.5 Q599,1377 649,1466 L763,1466 Z" transform="translate(-20.782,0) scale(0.014600,-0.013870)"/><text x="-4.153" y="0">.0</text></g>
<g transform="translate(529.8,938.6) scale(0.953,1)"><path d="M763,0 L583,0 L583,1147 Q518,1085 415,1024.5 Q312,964 223,931 L223,1105 Q374,1176 486.5,1276.5 Q599,1377 649,1466 L763,1466 Z" transform="translate(-93.625,0) scale(0.014600,-0.013870)"/><text x="-67.687" y="0">− Specificity</text></g>
<text transform="translate(25.3,415.4) rotate(-90) scale(0.953,1)" text-anchor="middle">Sensitivity</text>
</g>
<g stroke-width="2.9" stroke-linecap="round"><line x1="533.3" x2="584.7" y1="548.70" y2="548.70" stroke="#FB7845"/><line x1="533.3" x2="584.7" y1="588.12" y2="588.12" stroke="#7A91CA"/><line x1="533.3" x2="584.7" y1="627.54" y2="627.54" stroke="#E874BF"/><line x1="533.3" x2="584.7" y1="666.96" y2="666.96" stroke="#98CE38"/><line x1="533.3" x2="584.7" y1="706.38" y2="706.38" stroke="#FFD41C"/><line x1="533.3" x2="584.7" y1="745.80" y2="745.80" stroke="#E2B97F"/><line x1="533.3" x2="584.7" y1="785.22" y2="785.22" stroke="#A6A6A6"/></g>
<g font-family="Liberation Sans" font-weight="bold" font-size="20.2" fill="#000" stroke="#000" stroke-width="0.3"><text x="595.4" y="553.3" textLength="281.7" lengthAdjust="spacingAndGlyphs">Oxygen AUC 0.697 (0.549-0.824)</text><text x="599.6" y="592.7" textLength="305.0" lengthAdjust="spacingAndGlyphs">Leukocyte AUC 0.732 (0.600-0.848)</text><text x="599.4" y="634.6" textLength="334.0" lengthAdjust="spacingAndGlyphs">Lymphocytes AUC 0.702 (0.591-0.833)</text><text x="597.4" y="674.4" textLength="287.7" lengthAdjust="spacingAndGlyphs">Albumin AUC 0.770 (0.663-0.884)</text><text x="596.0" y="713.7" textLength="252.1" lengthAdjust="spacingAndGlyphs">CRP AUC 0.918 (0.845-0.961)</text><text x="598.6" y="754.2" textLength="245.4" lengthAdjust="spacingAndGlyphs">IL-6 AUC 0.931 (0.874-0.970)</text><text x="597.6" y="792.6" textLength="237.1" lengthAdjust="spacingAndGlyphs">D-dimer 0.884 (0.801-0.941)</text></g>
</svg>
</body></html>
